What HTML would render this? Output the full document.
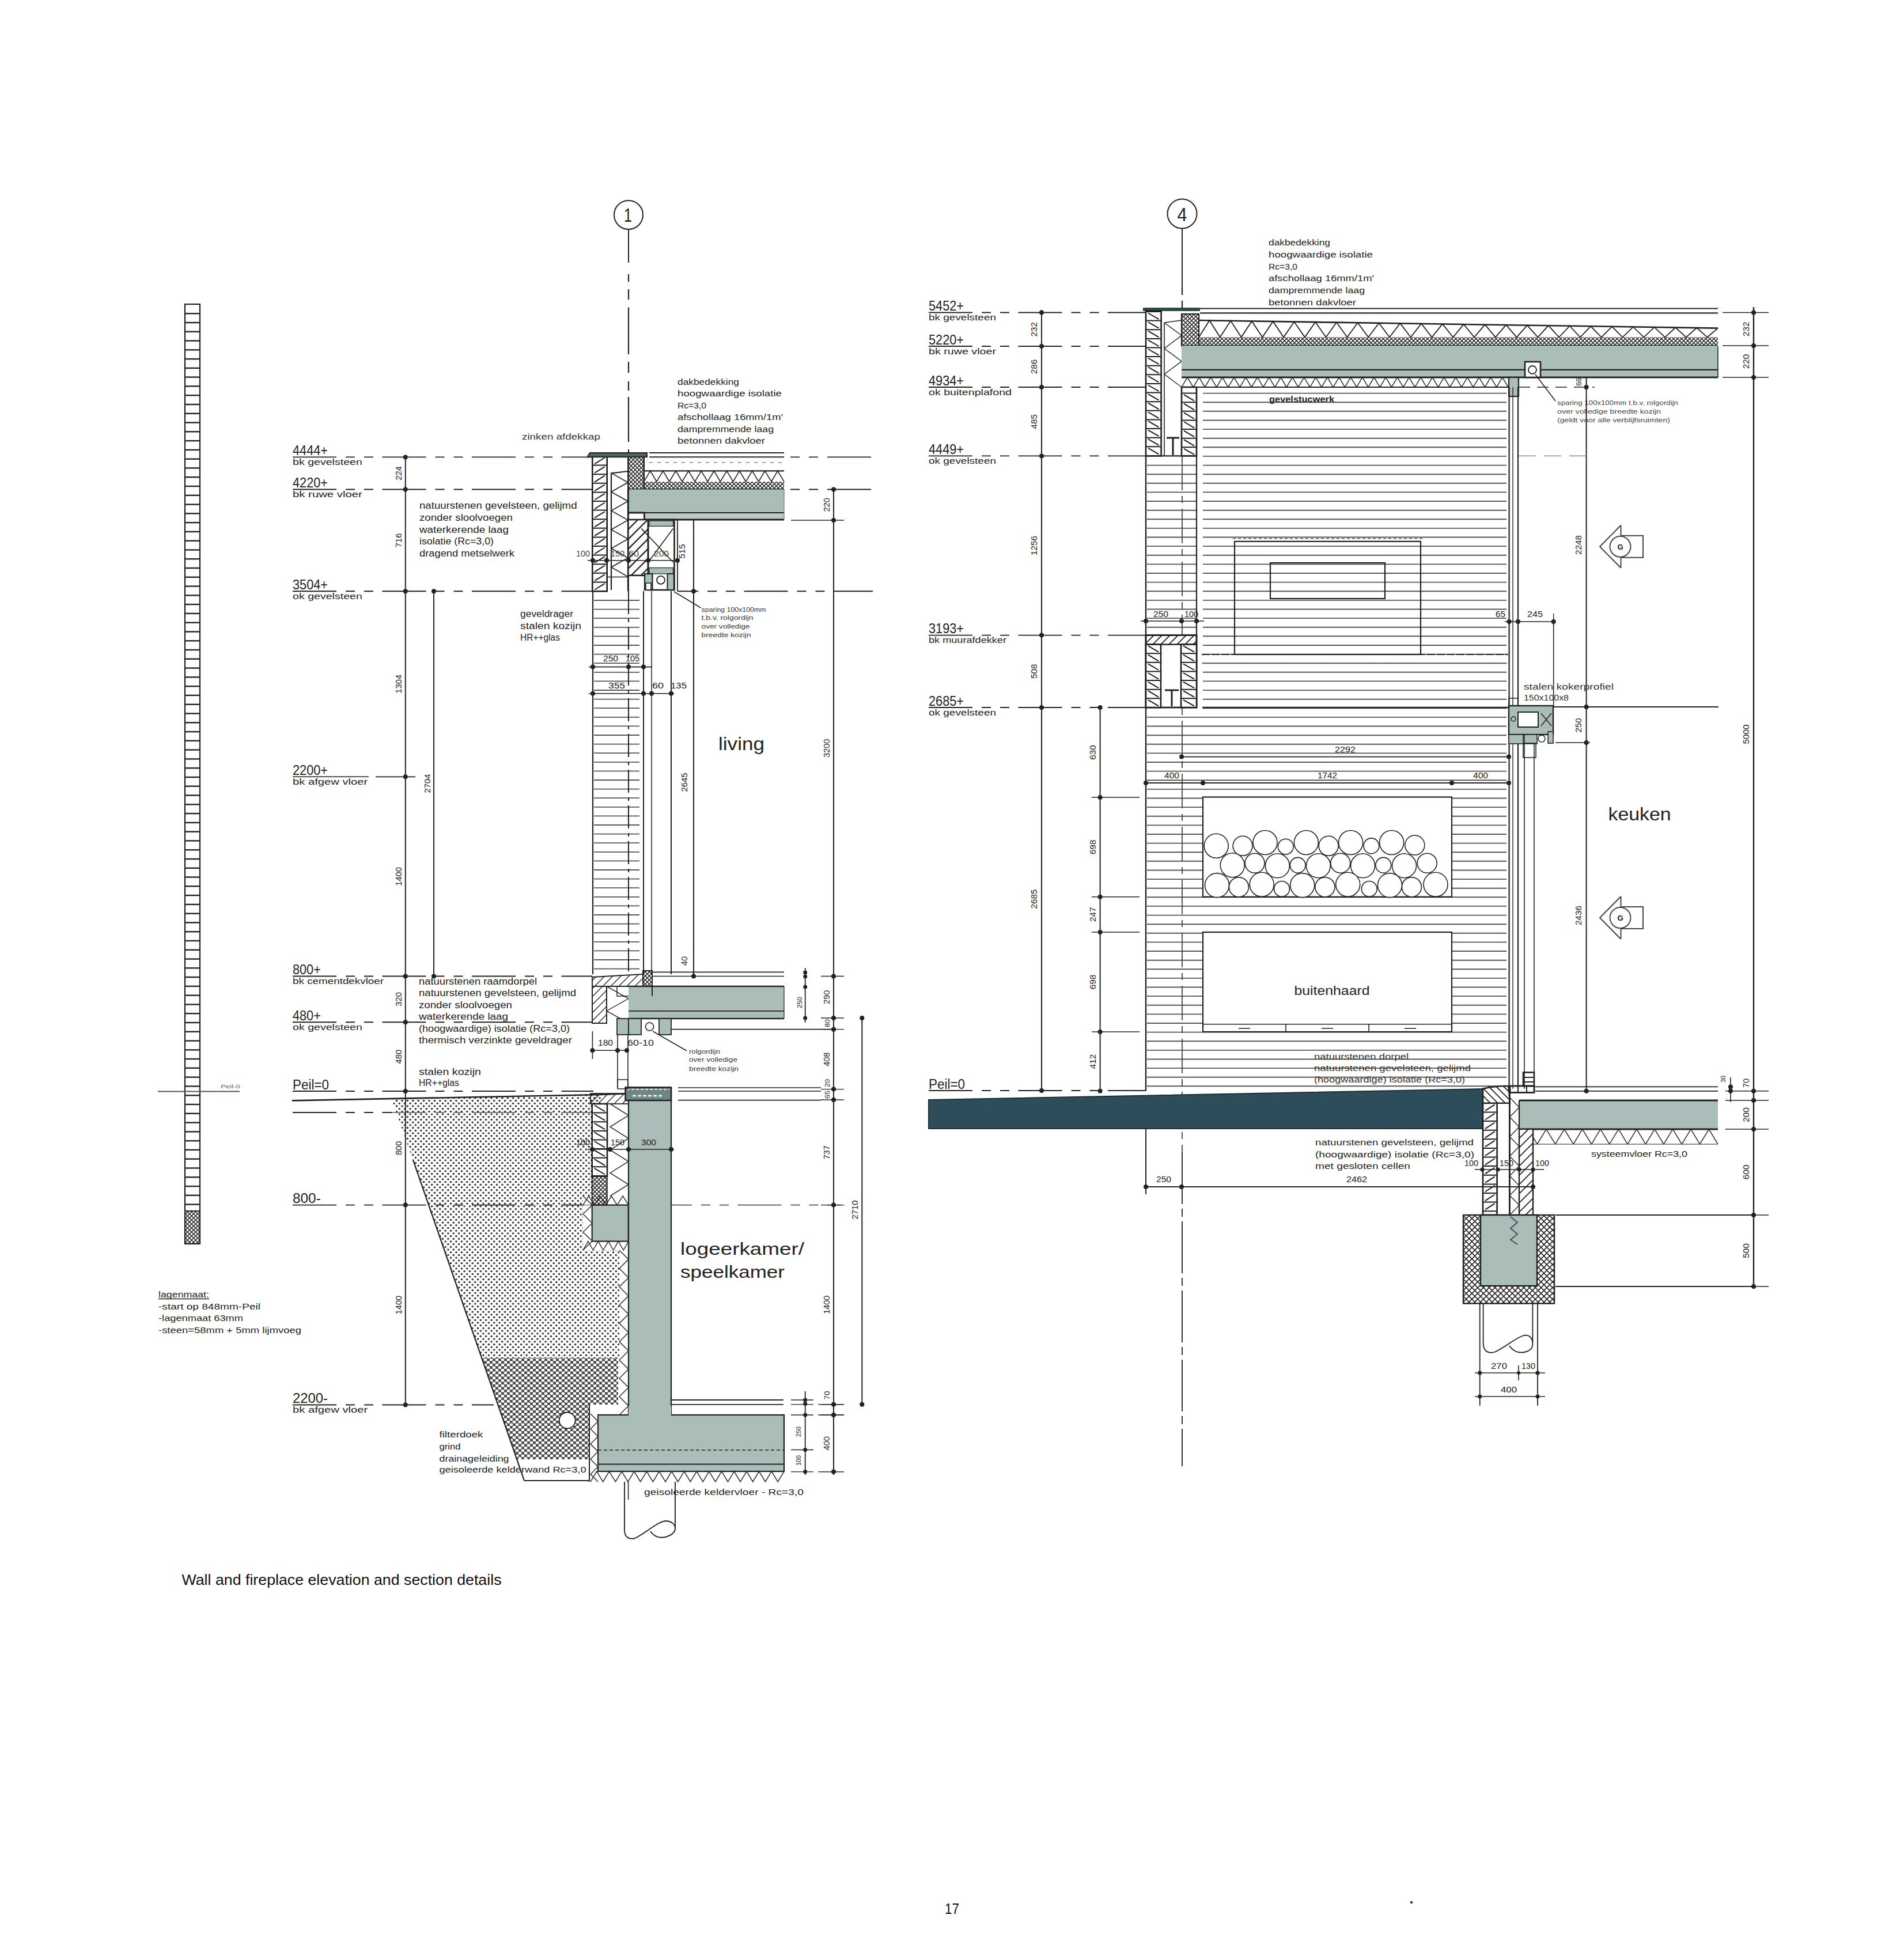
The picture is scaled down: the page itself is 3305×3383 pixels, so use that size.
<!DOCTYPE html>
<html><head><meta charset="utf-8"><title>Wall and fireplace elevation and section details</title>
<style>html,body{margin:0;padding:0;background:#fff;}body{width:3305px;height:3383px;overflow:hidden;}svg{display:block;}text{font-family:"Liberation Sans",sans-serif;}</style>
</head><body>
<svg width="3305" height="3383" viewBox="0 0 3305 3383" font-family="Liberation Sans, sans-serif">
<defs>
<pattern id="dots" width="9.4" height="9.4" patternUnits="userSpaceOnUse"><circle cx="2.35" cy="2.35" r="1.75" fill="#2a2a2a"/><circle cx="7.05" cy="7.05" r="1.75" fill="#2a2a2a"/></pattern>
<pattern id="gravel" width="10" height="9" patternUnits="userSpaceOnUse"><rect width="10" height="9" fill="#3a3a3a"/><ellipse cx="2.5" cy="2.25" rx="3" ry="2.5" fill="#fff"/><ellipse cx="7.5" cy="6.75" rx="3" ry="2.5" fill="#fff"/><ellipse cx="12.5" cy="2.25" rx="3" ry="2.5" fill="#fff"/><ellipse cx="-2.5" cy="6.75" rx="3" ry="2.5" fill="#fff"/><ellipse cx="2.5" cy="11.25" rx="3" ry="2.5" fill="#fff"/><ellipse cx="7.5" cy="-2.25" rx="3" ry="2.5" fill="#fff"/><ellipse cx="12.5" cy="11.25" rx="3" ry="2.5" fill="#fff"/><ellipse cx="-2.5" cy="-2.25" rx="3" ry="2.5" fill="#fff"/></pattern>
<pattern id="xhatch" width="10" height="10" patternUnits="userSpaceOnUse"><path d="M0,0 L10,10 M10,0 L0,10" stroke="#222" stroke-width="1.6"/></pattern>
<pattern id="xhatch2" width="7" height="7" patternUnits="userSpaceOnUse"><path d="M0,0 L7,7 M7,0 L0,7" stroke="#222" stroke-width="1.5"/></pattern>
<pattern id="diag" width="14" height="14" patternUnits="userSpaceOnUse"><path d="M-2,16 L16,-2 M-2,2 L2,-2 M12,16 L16,12" stroke="#333" stroke-width="1.5"/></pattern>
</defs>
<circle cx="1091.0" cy="373.0" r="25.0" fill="none" stroke="#222" stroke-width="2"/>
<text x="1090.0" y="385.0" font-size="34" text-anchor="middle" fill="#222" textLength="14" lengthAdjust="spacingAndGlyphs" font-weight="normal" >1</text>
<line x1="1091.0" y1="398.0" x2="1091.0" y2="456.0" stroke="#222" stroke-width="2" />
<line x1="1091.0" y1="476.0" x2="1091.0" y2="489.0" stroke="#222" stroke-width="2.2" />
<line x1="1091.0" y1="502.0" x2="1091.0" y2="520.0" stroke="#222" stroke-width="2.2" />
<line x1="1091.0" y1="533.7" x2="1091.0" y2="615.0" stroke="#222" stroke-width="2.2" />
<line x1="1091.0" y1="628.0" x2="1091.0" y2="647.0" stroke="#222" stroke-width="2.2" />
<line x1="1091.0" y1="662.0" x2="1091.0" y2="678.0" stroke="#222" stroke-width="2.2" />
<line x1="1091.0" y1="689.0" x2="1091.0" y2="767.0" stroke="#222" stroke-width="2.2" />
<line x1="1091.0" y1="780.0" x2="1091.0" y2="787.0" stroke="#222" stroke-width="2.2" />
<text x="1176.0" y="667.6" font-size="15.5" text-anchor="start" fill="#222" textLength="107" lengthAdjust="spacingAndGlyphs" font-weight="normal" >dakbedekking</text>
<text x="1176.0" y="688.1" font-size="15.5" text-anchor="start" fill="#222" textLength="181" lengthAdjust="spacingAndGlyphs" font-weight="normal" >hoogwaardige isolatie</text>
<text x="1176.0" y="708.6" font-size="15.5" text-anchor="start" fill="#222" textLength="50" lengthAdjust="spacingAndGlyphs" font-weight="normal" >Rc=3,0</text>
<text x="1176.0" y="729.1" font-size="15.5" text-anchor="start" fill="#222" textLength="183" lengthAdjust="spacingAndGlyphs" font-weight="normal" >afschollaag 16mm/1m'</text>
<text x="1176.0" y="749.6" font-size="15.5" text-anchor="start" fill="#222" textLength="167" lengthAdjust="spacingAndGlyphs" font-weight="normal" >dampremmende laag</text>
<text x="1176.0" y="770.1" font-size="15.5" text-anchor="start" fill="#222" textLength="152" lengthAdjust="spacingAndGlyphs" font-weight="normal" >betonnen dakvloer</text>
<text x="906.0" y="763.0" font-size="15" text-anchor="start" fill="#333" textLength="136" lengthAdjust="spacingAndGlyphs" font-weight="normal" >zinken afdekkap</text>
<text x="508.0" y="789.9" font-size="23" text-anchor="start" fill="#222" textLength="61.0" lengthAdjust="spacingAndGlyphs" font-weight="normal" >4444+</text>
<text x="508.0" y="806.9" font-size="14.5" text-anchor="start" fill="#222" textLength="120.9" lengthAdjust="spacingAndGlyphs" font-weight="normal" >bk gevelsteen</text>
<text x="508.0" y="846.0" font-size="23" text-anchor="start" fill="#222" textLength="61.0" lengthAdjust="spacingAndGlyphs" font-weight="normal" >4220+</text>
<text x="508.0" y="863.0" font-size="14.5" text-anchor="start" fill="#222" textLength="120.9" lengthAdjust="spacingAndGlyphs" font-weight="normal" >bk ruwe vloer</text>
<text x="508.0" y="1022.8" font-size="23" text-anchor="start" fill="#222" textLength="61.0" lengthAdjust="spacingAndGlyphs" font-weight="normal" >3504+</text>
<text x="508.0" y="1039.8" font-size="14.5" text-anchor="start" fill="#222" textLength="120.9" lengthAdjust="spacingAndGlyphs" font-weight="normal" >ok gevelsteen</text>
<text x="508.0" y="1344.8" font-size="23" text-anchor="start" fill="#222" textLength="61.0" lengthAdjust="spacingAndGlyphs" font-weight="normal" >2200+</text>
<text x="508.0" y="1361.8" font-size="14.5" text-anchor="start" fill="#222" textLength="130.20000000000002" lengthAdjust="spacingAndGlyphs" font-weight="normal" >bk afgew vloer</text>
<text x="508.0" y="1691.0" font-size="23" text-anchor="start" fill="#222" textLength="48.8" lengthAdjust="spacingAndGlyphs" font-weight="normal" >800+</text>
<text x="508.0" y="1708.0" font-size="14.5" text-anchor="start" fill="#222" textLength="158.10000000000002" lengthAdjust="spacingAndGlyphs" font-weight="normal" >bk cementdekvloer</text>
<text x="508.0" y="1770.8" font-size="23" text-anchor="start" fill="#222" textLength="48.8" lengthAdjust="spacingAndGlyphs" font-weight="normal" >480+</text>
<text x="508.0" y="1787.8" font-size="14.5" text-anchor="start" fill="#222" textLength="120.9" lengthAdjust="spacingAndGlyphs" font-weight="normal" >ok gevelsteen</text>
<text x="508.0" y="1890.5" font-size="23" text-anchor="start" fill="#222" textLength="63" lengthAdjust="spacingAndGlyphs" font-weight="normal" >Peil=0</text>
<text x="508.0" y="2088.1" font-size="23" text-anchor="start" fill="#222" textLength="48.8" lengthAdjust="spacingAndGlyphs" font-weight="normal" >800-</text>
<text x="508.0" y="2435.0" font-size="23" text-anchor="start" fill="#222" textLength="61.0" lengthAdjust="spacingAndGlyphs" font-weight="normal" >2200-</text>
<text x="508.0" y="2452.0" font-size="14.5" text-anchor="start" fill="#222" textLength="130.20000000000002" lengthAdjust="spacingAndGlyphs" font-weight="normal" >bk afgew vloer</text>
<line x1="508.0" y1="793.4" x2="1028.0" y2="793.4" stroke="#222" stroke-width="1.9" stroke-dasharray="76 16 16 16 16 15.5" stroke-dashoffset="0"/>
<line x1="508.0" y1="849.5" x2="1028.0" y2="849.5" stroke="#222" stroke-width="1.9" stroke-dasharray="76 16 16 16 16 15.5" stroke-dashoffset="0"/>
<line x1="508.0" y1="1026.3" x2="1028.0" y2="1026.3" stroke="#222" stroke-width="1.9" stroke-dasharray="76 16 16 16 16 15.5" stroke-dashoffset="0"/>
<line x1="508.0" y1="1694.5" x2="1028.0" y2="1694.5" stroke="#222" stroke-width="1.9" stroke-dasharray="76 16 16 16 16 15.5" stroke-dashoffset="0"/>
<line x1="508.0" y1="1774.3" x2="1028.0" y2="1774.3" stroke="#222" stroke-width="1.9" stroke-dasharray="76 16 16 16 16 15.5" stroke-dashoffset="0"/>
<line x1="508.0" y1="1894.0" x2="1030.0" y2="1894.0" stroke="#222" stroke-width="1.9" stroke-dasharray="76 16 16 16 16 15.5" stroke-dashoffset="0"/>
<line x1="508.0" y1="2091.6" x2="1012.0" y2="2091.6" stroke="#222" stroke-width="1.9" stroke-dasharray="76 16 16 16 16 15.5" stroke-dashoffset="0"/>
<line x1="508.0" y1="2438.5" x2="857.0" y2="2438.5" stroke="#222" stroke-width="1.9" stroke-dasharray="76 16 16 16 16 15.5" stroke-dashoffset="0"/>
<line x1="508.0" y1="1931.0" x2="680.0" y2="1931.0" stroke="#222" stroke-width="1.9" stroke-dasharray="76 16 16 16 16 15.5" stroke-dashoffset="0"/>
<line x1="508.0" y1="1348.3" x2="640.0" y2="1348.3" stroke="#222" stroke-width="1.6" />
<line x1="652.0" y1="1348.3" x2="721.0" y2="1348.3" stroke="#222" stroke-width="1.8" />
<line x1="1372.0" y1="793.4" x2="1515.0" y2="793.4" stroke="#222" stroke-width="1.9" stroke-dasharray="16 16 16 16 76 16" stroke-dashoffset="0"/>
<line x1="1176.0" y1="1026.3" x2="1515.0" y2="1026.3" stroke="#222" stroke-width="1.9" stroke-dasharray="76 16 16 16 16 15.5" stroke-dashoffset="40"/>
<line x1="1372.0" y1="849.5" x2="1515.0" y2="849.5" stroke="#222" stroke-width="1.9" stroke-dasharray="16 16 16 16 76 16" stroke-dashoffset="0"/>
<line x1="1373.0" y1="903.0" x2="1465.0" y2="903.0" stroke="#222" stroke-width="1.6" />
<line x1="703.8" y1="790.0" x2="703.8" y2="2442.0" stroke="#222" stroke-width="2" />
<circle cx="703.8" cy="793.4" r="4" fill="#222"/>
<circle cx="703.8" cy="849.5" r="4" fill="#222"/>
<circle cx="703.8" cy="1026.3" r="4" fill="#222"/>
<circle cx="703.8" cy="1348.3" r="4" fill="#222"/>
<circle cx="703.8" cy="1694.5" r="4" fill="#222"/>
<circle cx="703.8" cy="1774.3" r="4" fill="#222"/>
<circle cx="703.8" cy="1894.0" r="4" fill="#222"/>
<circle cx="703.8" cy="2091.6" r="4" fill="#222"/>
<circle cx="703.8" cy="2438.5" r="4" fill="#222"/>
<text x="697.0" y="821.5" font-size="14" text-anchor="middle" fill="#222" textLength="24.599999999999998" lengthAdjust="spacingAndGlyphs" transform="rotate(-90 697.0 821.5)" font-weight="normal" >224</text>
<text x="697.0" y="937.9" font-size="14" text-anchor="middle" fill="#222" textLength="24.599999999999998" lengthAdjust="spacingAndGlyphs" transform="rotate(-90 697.0 937.9)" font-weight="normal" >716</text>
<text x="697.0" y="1187.3" font-size="14" text-anchor="middle" fill="#222" textLength="32.8" lengthAdjust="spacingAndGlyphs" transform="rotate(-90 697.0 1187.3)" font-weight="normal" >1304</text>
<text x="697.0" y="1521.4" font-size="14" text-anchor="middle" fill="#222" textLength="32.8" lengthAdjust="spacingAndGlyphs" transform="rotate(-90 697.0 1521.4)" font-weight="normal" >1400</text>
<text x="697.0" y="1734.4" font-size="14" text-anchor="middle" fill="#222" textLength="24.599999999999998" lengthAdjust="spacingAndGlyphs" transform="rotate(-90 697.0 1734.4)" font-weight="normal" >320</text>
<text x="697.0" y="1834.2" font-size="14" text-anchor="middle" fill="#222" textLength="24.599999999999998" lengthAdjust="spacingAndGlyphs" transform="rotate(-90 697.0 1834.2)" font-weight="normal" >480</text>
<text x="697.0" y="1992.8" font-size="14" text-anchor="middle" fill="#222" textLength="24.599999999999998" lengthAdjust="spacingAndGlyphs" transform="rotate(-90 697.0 1992.8)" font-weight="normal" >800</text>
<text x="697.0" y="2265.1" font-size="14" text-anchor="middle" fill="#222" textLength="32.8" lengthAdjust="spacingAndGlyphs" transform="rotate(-90 697.0 2265.1)" font-weight="normal" >1400</text>
<line x1="753.0" y1="1023.0" x2="753.0" y2="1697.0" stroke="#222" stroke-width="2" />
<circle cx="753.0" cy="1026.3" r="4" fill="#222"/>
<circle cx="753.0" cy="1694.5" r="4" fill="#222"/>
<text x="747.0" y="1360.0" font-size="14" text-anchor="middle" fill="#222" textLength="33" lengthAdjust="spacingAndGlyphs" transform="rotate(-90 747.0 1360.0)" font-weight="normal" >2704</text>
<text x="728.0" y="883.0" font-size="16" text-anchor="start" fill="#222" textLength="273.5" lengthAdjust="spacingAndGlyphs" font-weight="normal" >natuurstenen gevelsteen, gelijmd</text>
<text x="728.0" y="904.0" font-size="16" text-anchor="start" fill="#222" textLength="162" lengthAdjust="spacingAndGlyphs" font-weight="normal" >zonder sloolvoegen</text>
<text x="728.0" y="924.5" font-size="16" text-anchor="start" fill="#222" textLength="155" lengthAdjust="spacingAndGlyphs" font-weight="normal" >waterkerende laag</text>
<text x="728.0" y="945.0" font-size="16" text-anchor="start" fill="#222" textLength="129" lengthAdjust="spacingAndGlyphs" font-weight="normal" >isolatie (Rc=3,0)</text>
<text x="728.0" y="965.6" font-size="16" text-anchor="start" fill="#222" textLength="165" lengthAdjust="spacingAndGlyphs" font-weight="normal" >dragend metselwerk</text>
<text x="903.0" y="1071.0" font-size="16" text-anchor="start" fill="#222" textLength="92" lengthAdjust="spacingAndGlyphs" font-weight="normal" >geveldrager</text>
<text x="903.0" y="1091.5" font-size="16" text-anchor="start" fill="#222" textLength="106" lengthAdjust="spacingAndGlyphs" font-weight="normal" >stalen kozijn</text>
<text x="903.0" y="1112.0" font-size="16" text-anchor="start" fill="#222" textLength="69" lengthAdjust="spacingAndGlyphs" font-weight="normal" >HR++glas</text>
<text x="727.0" y="1708.7" font-size="16" text-anchor="start" fill="#222" textLength="205" lengthAdjust="spacingAndGlyphs" font-weight="normal" >natuurstenen raamdorpel</text>
<text x="727.0" y="1729.0" font-size="16" text-anchor="start" fill="#222" textLength="273" lengthAdjust="spacingAndGlyphs" font-weight="normal" >natuurstenen gevelsteen, gelijmd</text>
<text x="727.0" y="1749.7" font-size="16" text-anchor="start" fill="#222" textLength="162" lengthAdjust="spacingAndGlyphs" font-weight="normal" >zonder sloolvoegen</text>
<text x="727.0" y="1770.0" font-size="16" text-anchor="start" fill="#222" textLength="155" lengthAdjust="spacingAndGlyphs" font-weight="normal" >waterkerende laag</text>
<text x="727.0" y="1790.7" font-size="16" text-anchor="start" fill="#222" textLength="262" lengthAdjust="spacingAndGlyphs" font-weight="normal" >(hoogwaardige) isolatie (Rc=3,0)</text>
<text x="727.0" y="1811.0" font-size="16" text-anchor="start" fill="#222" textLength="266" lengthAdjust="spacingAndGlyphs" font-weight="normal" >thermisch verzinkte geveldrager</text>
<text x="727.0" y="1866.3" font-size="16" text-anchor="start" fill="#222" textLength="108" lengthAdjust="spacingAndGlyphs" font-weight="normal" >stalen kozijn</text>
<text x="727.0" y="1885.2" font-size="16" text-anchor="start" fill="#222" textLength="70" lengthAdjust="spacingAndGlyphs" font-weight="normal" >HR++glas</text>
<text x="1217.6" y="1061.7" font-size="10" text-anchor="start" fill="#333" textLength="112" lengthAdjust="spacingAndGlyphs" font-weight="normal" >sparing 100x100mm</text>
<text x="1217.6" y="1076.4" font-size="10" text-anchor="start" fill="#333" textLength="90" lengthAdjust="spacingAndGlyphs" font-weight="normal" >t.b.v. rolgordijn</text>
<text x="1217.6" y="1091.0" font-size="10" text-anchor="start" fill="#333" textLength="84" lengthAdjust="spacingAndGlyphs" font-weight="normal" >over volledige</text>
<text x="1217.6" y="1105.8" font-size="10" text-anchor="start" fill="#333" textLength="86" lengthAdjust="spacingAndGlyphs" font-weight="normal" >breedte kozijn</text>
<line x1="1170.0" y1="1027.0" x2="1216.5" y2="1055.0" stroke="#222" stroke-width="1.5" />
<text x="1196.0" y="1829.0" font-size="10" text-anchor="start" fill="#333" textLength="54" lengthAdjust="spacingAndGlyphs" font-weight="normal" >rolgordijn</text>
<text x="1196.0" y="1843.4" font-size="10" text-anchor="start" fill="#333" textLength="84" lengthAdjust="spacingAndGlyphs" font-weight="normal" >over volledige</text>
<text x="1196.0" y="1858.8" font-size="10" text-anchor="start" fill="#333" textLength="86" lengthAdjust="spacingAndGlyphs" font-weight="normal" >breedte kozijn</text>
<line x1="1133.0" y1="1790.0" x2="1192.0" y2="1824.0" stroke="#222" stroke-width="1.5" />
<text x="1287.0" y="1302.0" font-size="32" text-anchor="middle" fill="#222" textLength="80" lengthAdjust="spacingAndGlyphs" font-weight="normal" >living</text>
<text x="1181.0" y="2178.0" font-size="30" text-anchor="start" fill="#222" textLength="215" lengthAdjust="spacingAndGlyphs" font-weight="normal" >logeerkamer/</text>
<text x="1181.0" y="2217.6" font-size="30" text-anchor="start" fill="#222" textLength="181" lengthAdjust="spacingAndGlyphs" font-weight="normal" >speelkamer</text>
<text x="762.5" y="2495.0" font-size="15" text-anchor="start" fill="#222" textLength="76" lengthAdjust="spacingAndGlyphs" font-weight="normal" >filterdoek</text>
<text x="762.5" y="2516.0" font-size="15" text-anchor="start" fill="#222" textLength="37" lengthAdjust="spacingAndGlyphs" font-weight="normal" >grind</text>
<text x="762.5" y="2537.0" font-size="15" text-anchor="start" fill="#222" textLength="121" lengthAdjust="spacingAndGlyphs" font-weight="normal" >drainageleiding</text>
<text x="762.5" y="2556.4" font-size="15" text-anchor="start" fill="#222" textLength="255" lengthAdjust="spacingAndGlyphs" font-weight="normal" >geisoleerde kelderwand Rc=3,0</text>
<text x="1118.0" y="2594.8" font-size="15" text-anchor="start" fill="#222" textLength="277" lengthAdjust="spacingAndGlyphs" font-weight="normal" >geisoleerde keldervloer - Rc=3,0</text>
<polygon points="680.0,1908.0 1043.0,1900.0 1043.0,1916.0 1028.0,1916.0 1028.0,2076.0 1012.0,2076.0 1012.0,2170.0 1075.0,2170.0 1075.0,2357.0 836.0,2357.0" fill="url(#dots)" stroke="none" stroke-width="0" stroke-linejoin="miter" />
<polygon points="836.0,2357.0 1073.0,2357.0 1073.0,2438.0 1023.0,2438.0 1023.0,2533.0 897.0,2533.0" fill="url(#gravel)" stroke="none" stroke-width="0" stroke-linejoin="miter" />
<line x1="716.8" y1="2012.8" x2="910.0" y2="2570.0" stroke="#222" stroke-width="2.2" />
<line x1="1165.0" y1="2091.6" x2="1460.0" y2="2091.6" stroke="#555" stroke-width="1.6" stroke-dasharray="76 16 16 16 16 15.5" stroke-dashoffset="40"/>
<line x1="1012.0" y1="2091.6" x2="1165.0" y2="2091.6" stroke="#5d6f6c" stroke-width="1.4" />
<line x1="680.0" y1="1931.0" x2="1028.0" y2="1931.0" stroke="#555" stroke-width="1.6" stroke-dasharray="76 16 16 16 16 15.5" stroke-dashoffset="172"/>
<line x1="910.0" y1="2570.0" x2="1023.0" y2="2570.0" stroke="#222" stroke-width="2.2" />
<line x1="1023.0" y1="2438.0" x2="1023.0" y2="2572.0" stroke="#222" stroke-width="2" />
<polyline points="507.0,1910.4 1043.0,1900.0 1095.0,1898.0" fill="none" stroke="#222" stroke-width="2.6" stroke-linejoin="miter" />
<circle cx="984.7" cy="2465.5" r="14.0" fill="#fff" stroke="#222" stroke-width="1.8"/>
<rect x="1091.0" y="1909.0" width="74.0" height="547.0" fill="#abbdb9" stroke="#222" stroke-width="2.2" />
<rect x="1038.0" y="2456.0" width="323.0" height="98.0" fill="#abbdb9" stroke="#222" stroke-width="2.2" />
<rect x="1091.0" y="2440.0" width="74.0" height="30.0" fill="#abbdb9"  />
<line x1="1038.0" y1="2517.0" x2="1361.0" y2="2517.0" stroke="#222" stroke-width="1.5" stroke-dasharray="6 4"/>
<line x1="1038.0" y1="2541.5" x2="1361.0" y2="2541.5" stroke="#222" stroke-width="2.2" />
<rect x="1027.7" y="2091.6" width="63.0" height="63.0" fill="#abbdb9" stroke="#222" stroke-width="2.2" />
<polyline points="1012.0,2076.0 1028.0,2091.7 1012.0,2107.3 1028.0,2123.0 1012.0,2138.7 1028.0,2154.3 1012.0,2170.0" fill="none" stroke="#333" stroke-width="1.5" stroke-linejoin="miter" />
<polyline points="1012.0,2170.0 1020.8,2154.6 1029.6,2170.0 1038.3,2154.6 1047.1,2170.0 1055.9,2154.6 1064.7,2170.0 1073.4,2154.6 1082.2,2170.0 1091.0,2154.6" fill="none" stroke="#333" stroke-width="1.5" stroke-linejoin="miter" />
<polyline points="1012.0,2091.6 1021.9,2076.0 1031.8,2091.6 1041.6,2076.0 1051.5,2091.6 1061.4,2076.0 1071.2,2091.6 1081.1,2076.0 1091.0,2091.6" fill="none" stroke="#333" stroke-width="1.5" stroke-linejoin="miter" />
<polyline points="1075.0,2170.0 1091.0,2185.9 1075.0,2201.8 1091.0,2217.7 1075.0,2233.6 1091.0,2249.4 1075.0,2265.3 1091.0,2281.2 1075.0,2297.1 1091.0,2313.0 1075.0,2328.9 1091.0,2344.8 1075.0,2360.7 1091.0,2376.6 1075.0,2392.4 1091.0,2408.3 1075.0,2424.2 1091.0,2440.1 1075.0,2456.0" fill="none" stroke="#333" stroke-width="1.5" stroke-linejoin="miter" />
<polyline points="1025.0,2454.0 1038.0,2467.1 1025.0,2480.2 1038.0,2493.3 1025.0,2506.4 1038.0,2519.6 1025.0,2532.7 1038.0,2545.8 1025.0,2558.9 1038.0,2572.0" fill="none" stroke="#333" stroke-width="1.5" stroke-linejoin="miter" />
<polyline points="1025.0,2572.0 1035.8,2554.0 1046.7,2572.0 1057.5,2554.0 1068.4,2572.0 1079.2,2554.0 1090.0,2572.0 1100.9,2554.0 1111.7,2572.0 1122.5,2554.0 1133.4,2572.0 1144.2,2554.0 1155.1,2572.0 1165.9,2554.0 1176.7,2572.0 1187.6,2554.0 1198.4,2572.0 1209.3,2554.0 1220.1,2572.0 1230.9,2554.0 1241.8,2572.0 1252.6,2554.0 1263.5,2572.0 1274.3,2554.0 1285.1,2572.0 1296.0,2554.0 1306.8,2572.0 1317.6,2554.0 1328.5,2572.0 1339.3,2554.0 1350.2,2572.0 1361.0,2554.0" fill="none" stroke="#333" stroke-width="1.5" stroke-linejoin="miter" />
<rect x="1027.7" y="1916.0" width="26.3" height="125.7" fill="#fff" stroke="#1e1e1e" stroke-width="2.6" />
<path d="M1031.7,1918.5L1050.0,1929.1 M1027.7,1931.6H1054.0 M1031.7,1934.1L1050.0,1944.7 M1027.7,1947.2H1054.0 M1031.7,1949.7L1050.0,1960.4 M1027.7,1962.9H1054.0 M1031.7,1965.4L1050.0,1976.0 M1027.7,1978.5H1054.0 M1031.7,1981.0L1050.0,1991.6 M1027.7,1994.1H1054.0 M1031.7,1996.6L1050.0,2007.2 M1027.7,2009.7H1054.0 M1031.7,2012.2L1050.0,2022.8 M1027.7,2025.3H1054.0 M1031.7,2027.8L1050.0,2038.5 M1027.7,2041.0H1054.0" fill="none" stroke="#1e1e1e" stroke-width="2.0"/>
<rect x="1027.7" y="2041.7" width="26.0" height="50.0" fill="url(#xhatch2)" stroke="#222" stroke-width="2" />
<polyline points="1059.0,1916.0 1091.0,1936.0 1059.0,1956.0 1091.0,1976.0 1059.0,1996.0 1091.0,2016.0 1059.0,2036.0 1091.0,2056.0 1059.0,2076.0" fill="none" stroke="#333" stroke-width="1.5" stroke-linejoin="miter" />
<rect x="1025.0" y="1898.0" width="66.0" height="18.0" fill="url(#diag)" stroke="#222" stroke-width="1.8" />
<rect x="1085.6" y="1887.4" width="79.4" height="22.6" fill="#6f8784" stroke="#222" stroke-width="2.6" />
<line x1="1088.0" y1="1891.0" x2="1162.0" y2="1891.0" stroke="#d8e6e2" stroke-width="1.8" stroke-dasharray="5 3"/>
<line x1="1098.0" y1="1902.0" x2="1150.0" y2="1902.0" stroke="#e8f0ee" stroke-width="3" stroke-dasharray="6 3"/>
<line x1="1177.0" y1="1888.0" x2="1425.0" y2="1888.0" stroke="#222" stroke-width="1.6" />
<line x1="1177.0" y1="1894.0" x2="1425.0" y2="1894.0" stroke="#222" stroke-width="1.6" />
<line x1="1177.0" y1="1909.6" x2="1425.0" y2="1909.6" stroke="#222" stroke-width="1.6" />
<path d="M1084,2572 L1084,2656 C1084,2668 1092,2673 1102,2670 C1120,2662 1140,2642 1155,2640 C1166,2640 1172,2646 1172,2653 L1172,2572" fill="none" stroke="#222" stroke-width="1.9" />
<path d="M1128.7,2658 C1136,2668 1146,2670 1155,2668 C1165,2665 1172,2660 1172,2653" fill="none" stroke="#222" stroke-width="1.9" />
<line x1="1090.6" y1="2572.0" x2="1090.6" y2="2603.0" stroke="#222" stroke-width="1.6" />
<line x1="1165.4" y1="2430.0" x2="1360.0" y2="2430.0" stroke="#222" stroke-width="1.8" />
<line x1="1165.4" y1="2437.8" x2="1360.0" y2="2437.8" stroke="#222" stroke-width="1.8" />
<rect x="1028.3" y="792.0" width="25.4" height="234.3" fill="#fff" stroke="#1e1e1e" stroke-width="2.6" />
<path d="M1032.3,805.1L1049.7,794.5 M1028.3,807.6H1053.7 M1032.3,820.7L1049.7,810.1 M1028.3,823.2H1053.7 M1032.3,836.3L1049.7,825.7 M1028.3,838.8H1053.7 M1032.3,851.9L1049.7,841.3 M1028.3,854.4H1053.7 M1032.3,867.5L1049.7,856.9 M1028.3,870.0H1053.7 M1032.3,883.1L1049.7,872.5 M1028.3,885.6H1053.7 M1032.3,898.7L1049.7,888.1 M1028.3,901.2H1053.7 M1032.3,914.3L1049.7,903.7 M1028.3,916.8H1053.7 M1032.3,929.9L1049.7,919.3 M1028.3,932.4H1053.7 M1032.3,945.5L1049.7,934.9 M1028.3,948.0H1053.7 M1032.3,961.1L1049.7,950.5 M1028.3,963.6H1053.7 M1032.3,976.7L1049.7,966.1 M1028.3,979.2H1053.7 M1032.3,992.3L1049.7,981.7 M1028.3,994.8H1053.7 M1032.3,1007.9L1049.7,997.3 M1028.3,1010.4H1053.7 M1032.3,1023.5L1049.7,1012.9" fill="none" stroke="#1e1e1e" stroke-width="2.0"/>
<polyline points="1061.0,1024.0 1061.0,821.4 1090.0,818.0" fill="none" stroke="#222" stroke-width="2.2" stroke-linejoin="miter" />
<polyline points="1061.0,821.0 1090.0,837.4 1061.0,853.7 1090.0,870.1 1061.0,886.5 1090.0,902.8 1061.0,919.2 1090.0,935.5 1061.0,951.9 1090.0,968.3 1061.0,984.6 1090.0,1001.0" fill="none" stroke="#333" stroke-width="1.8" stroke-linejoin="miter" />
<line x1="1053.7" y1="1001.5" x2="1090.0" y2="1001.5" stroke="#222" stroke-width="1.6" />
<line x1="1061.0" y1="1001.5" x2="1061.0" y2="1024.0" stroke="#222" stroke-width="2" />
<rect x="1090.4" y="792.0" width="27.3" height="57.4" fill="url(#xhatch2)" stroke="#222" stroke-width="2.6" />
<path d="M1020,792 L1024,786 L1123,786 L1123,793.3 L1020,793.3 Z" fill="#4f6462" stroke="#222" stroke-width="2" />
<line x1="1127.0" y1="786.0" x2="1361.0" y2="786.0" stroke="#222" stroke-width="2.2" />
<line x1="1127.0" y1="793.3" x2="1361.0" y2="793.3" stroke="#222" stroke-width="2" />
<line x1="1127.0" y1="802.7" x2="1361.0" y2="802.7" stroke="#888" stroke-width="1.4" stroke-dasharray="6 8"/>
<polyline points="1117.7,836.0 1128.8,817.4 1139.8,836.0 1150.9,817.4 1161.9,836.0 1173.0,817.4 1184.1,836.0 1195.1,817.4 1206.2,836.0 1217.2,817.4 1228.3,836.0 1239.3,817.4 1250.4,836.0 1261.5,817.4 1272.5,836.0 1283.6,817.4 1294.6,836.0 1305.7,817.4 1316.8,836.0 1327.8,817.4 1338.9,836.0 1349.9,817.4 1361.0,836.0" fill="none" stroke="#333" stroke-width="1.8" stroke-linejoin="miter" />
<rect x="1117.7" y="836.0" width="243.3" height="12.4" fill="url(#xhatch2)"  />
<line x1="1117.7" y1="817.4" x2="1361.0" y2="817.4" stroke="#222" stroke-width="2.4" />
<line x1="1090.0" y1="849.4" x2="1361.0" y2="849.4" stroke="#222" stroke-width="2.8" />
<rect x="1091.7" y="849.4" width="269.3" height="41.0" fill="#abbdb9"  />
<rect x="1118.4" y="890.0" width="242.6" height="12.0" fill="#b9cbc7"  />
<line x1="1090.4" y1="849.4" x2="1090.4" y2="1026.0" stroke="#222" stroke-width="3" />
<polyline points="1090.4,890.0 1118.4,890.0 1118.4,902.0 1361.0,902.0" fill="none" stroke="#222" stroke-width="2.8" stroke-linejoin="miter" />
<line x1="1118.4" y1="890.0" x2="1361.0" y2="890.0" stroke="#222" stroke-width="2.2" />
<line x1="1361.0" y1="849.4" x2="1361.0" y2="902.0" stroke="#777" stroke-width="1.2" />
<rect x="1090.4" y="902.0" width="34.6" height="96.8" fill="#fff" stroke="#222" stroke-width="2.6" />
<clipPath id="c163"><rect x="1090.4" y="902" width="34.59999999999991" height="96.79999999999995"/></clipPath>
<path d="M993.6,998.8L1090.4,902.0 M1010.6,998.8L1107.4,902.0 M1027.6,998.8L1124.4,902.0 M1044.6,998.8L1141.4,902.0 M1061.6,998.8L1158.4,902.0 M1078.6,998.8L1175.4,902.0 M1095.6,998.8L1192.4,902.0 M1112.6,998.8L1209.4,902.0 M1129.6,998.8L1226.4,902.0 M1146.6,998.8L1243.4,902.0 M1163.6,998.8L1260.4,902.0 M1180.6,998.8L1277.4,902.0 M1197.6,998.8L1294.4,902.0 M1214.6,998.8L1311.4,902.0" stroke="#222" stroke-width="2.2" clip-path="url(#c163)"/>
<rect x="1125.0" y="902.0" width="45.5" height="122.0" fill="none" stroke="#222" stroke-width="2.6" />
<path d="M1113.4,917.4 L1168.5,976 M1168.5,917.4 L1125,976" fill="none" stroke="#222" stroke-width="1.6" />
<rect x="1127.0" y="904.0" width="41.5" height="9.4" fill="#abbdb9" stroke="#222" stroke-width="1.2" />
<rect x="1127.0" y="985.5" width="41.5" height="10.5" fill="#abbdb9" stroke="#222" stroke-width="1.2" />
<rect x="1119.0" y="996.0" width="13.4" height="28.0" fill="#abbdb9" stroke="#222" stroke-width="2.2" />
<rect x="1121.0" y="1012.0" width="9.0" height="12.0" fill="#fff" stroke="#222" stroke-width="1.6" />
<circle cx="1147.0" cy="1006.8" r="7.0" fill="none" stroke="#222" stroke-width="1.8"/>
<rect x="1158.5" y="996.0" width="11.3" height="28.0" fill="#abbdb9" stroke="#222" stroke-width="2" />
<line x1="1176.0" y1="902.0" x2="1176.0" y2="1026.0" stroke="#222" stroke-width="1.8" />
<circle cx="1176.0" cy="972.7" r="4" fill="#222"/>
<text x="1189.0" y="957.0" font-size="14" text-anchor="middle" fill="#222" textLength="25" lengthAdjust="spacingAndGlyphs" transform="rotate(-90 1189.0 957.0)" font-weight="normal" >515</text>
<line x1="1020.0" y1="972.7" x2="1180.0" y2="972.7" stroke="#222" stroke-width="1.5" />
<circle cx="1029.0" cy="972.7" r="4" fill="#222"/>
<circle cx="1053.0" cy="972.7" r="4" fill="#222"/>
<circle cx="1091.0" cy="972.7" r="4" fill="#222"/>
<circle cx="1125.0" cy="972.7" r="4" fill="#222"/>
<text x="1024.0" y="966.0" font-size="14" text-anchor="end" fill="#444" textLength="24" lengthAdjust="spacingAndGlyphs" font-weight="normal" >100</text>
<text x="1060.0" y="966.0" font-size="14" text-anchor="start" fill="#444" textLength="24" lengthAdjust="spacingAndGlyphs" font-weight="normal" >150</text>
<text x="1091.0" y="966.0" font-size="14" text-anchor="start" fill="#444" textLength="18" lengthAdjust="spacingAndGlyphs" font-weight="normal" >60</text>
<text x="1135.0" y="966.0" font-size="14" text-anchor="start" fill="#444" textLength="26" lengthAdjust="spacingAndGlyphs" font-weight="normal" >200</text>
<line x1="1029.0" y1="1026.0" x2="1029.0" y2="1691.0" stroke="#222" stroke-width="2.2" />
<line x1="1031.0" y1="1042.0" x2="1110.0" y2="1042.0" stroke="#555" stroke-width="1.8" />
<line x1="1031.0" y1="1057.6" x2="1110.0" y2="1057.6" stroke="#555" stroke-width="1.8" />
<line x1="1031.0" y1="1073.2" x2="1110.0" y2="1073.2" stroke="#555" stroke-width="1.8" />
<line x1="1031.0" y1="1088.8" x2="1110.0" y2="1088.8" stroke="#555" stroke-width="1.8" />
<line x1="1031.0" y1="1104.4" x2="1110.0" y2="1104.4" stroke="#555" stroke-width="1.8" />
<line x1="1031.0" y1="1120.0" x2="1110.0" y2="1120.0" stroke="#555" stroke-width="1.8" />
<line x1="1031.0" y1="1135.6" x2="1110.0" y2="1135.6" stroke="#555" stroke-width="1.8" />
<line x1="1031.0" y1="1151.2" x2="1110.0" y2="1151.2" stroke="#555" stroke-width="1.8" />
<line x1="1031.0" y1="1166.8" x2="1110.0" y2="1166.8" stroke="#555" stroke-width="1.8" />
<line x1="1031.0" y1="1182.4" x2="1110.0" y2="1182.4" stroke="#555" stroke-width="1.8" />
<line x1="1031.0" y1="1198.0" x2="1110.0" y2="1198.0" stroke="#555" stroke-width="1.8" />
<line x1="1031.0" y1="1213.6" x2="1110.0" y2="1213.6" stroke="#555" stroke-width="1.8" />
<line x1="1031.0" y1="1229.2" x2="1110.0" y2="1229.2" stroke="#555" stroke-width="1.8" />
<line x1="1031.0" y1="1244.8" x2="1110.0" y2="1244.8" stroke="#555" stroke-width="1.8" />
<line x1="1031.0" y1="1260.4" x2="1110.0" y2="1260.4" stroke="#555" stroke-width="1.8" />
<line x1="1031.0" y1="1276.0" x2="1110.0" y2="1276.0" stroke="#555" stroke-width="1.8" />
<line x1="1031.0" y1="1291.6" x2="1110.0" y2="1291.6" stroke="#555" stroke-width="1.8" />
<line x1="1031.0" y1="1307.2" x2="1110.0" y2="1307.2" stroke="#555" stroke-width="1.8" />
<line x1="1031.0" y1="1322.8" x2="1110.0" y2="1322.8" stroke="#555" stroke-width="1.8" />
<line x1="1031.0" y1="1338.4" x2="1110.0" y2="1338.4" stroke="#555" stroke-width="1.8" />
<line x1="1031.0" y1="1354.0" x2="1110.0" y2="1354.0" stroke="#555" stroke-width="1.8" />
<line x1="1031.0" y1="1369.6" x2="1110.0" y2="1369.6" stroke="#555" stroke-width="1.8" />
<line x1="1031.0" y1="1385.2" x2="1110.0" y2="1385.2" stroke="#555" stroke-width="1.8" />
<line x1="1031.0" y1="1400.8" x2="1110.0" y2="1400.8" stroke="#555" stroke-width="1.8" />
<line x1="1031.0" y1="1416.4" x2="1110.0" y2="1416.4" stroke="#555" stroke-width="1.8" />
<line x1="1031.0" y1="1432.0" x2="1110.0" y2="1432.0" stroke="#555" stroke-width="1.8" />
<line x1="1031.0" y1="1447.6" x2="1110.0" y2="1447.6" stroke="#555" stroke-width="1.8" />
<line x1="1031.0" y1="1463.2" x2="1110.0" y2="1463.2" stroke="#555" stroke-width="1.8" />
<line x1="1031.0" y1="1478.8" x2="1110.0" y2="1478.8" stroke="#555" stroke-width="1.8" />
<line x1="1031.0" y1="1494.4" x2="1110.0" y2="1494.4" stroke="#555" stroke-width="1.8" />
<line x1="1031.0" y1="1510.0" x2="1110.0" y2="1510.0" stroke="#555" stroke-width="1.8" />
<line x1="1031.0" y1="1525.6" x2="1110.0" y2="1525.6" stroke="#555" stroke-width="1.8" />
<line x1="1031.0" y1="1541.2" x2="1110.0" y2="1541.2" stroke="#555" stroke-width="1.8" />
<line x1="1031.0" y1="1556.8" x2="1110.0" y2="1556.8" stroke="#555" stroke-width="1.8" />
<line x1="1031.0" y1="1572.4" x2="1110.0" y2="1572.4" stroke="#555" stroke-width="1.8" />
<line x1="1031.0" y1="1588.0" x2="1110.0" y2="1588.0" stroke="#555" stroke-width="1.8" />
<line x1="1031.0" y1="1603.6" x2="1110.0" y2="1603.6" stroke="#555" stroke-width="1.8" />
<line x1="1031.0" y1="1619.2" x2="1110.0" y2="1619.2" stroke="#555" stroke-width="1.8" />
<line x1="1031.0" y1="1634.8" x2="1110.0" y2="1634.8" stroke="#555" stroke-width="1.8" />
<line x1="1031.0" y1="1650.4" x2="1110.0" y2="1650.4" stroke="#555" stroke-width="1.8" />
<line x1="1031.0" y1="1666.0" x2="1110.0" y2="1666.0" stroke="#555" stroke-width="1.8" />
<line x1="1031.0" y1="1681.6" x2="1110.0" y2="1681.6" stroke="#555" stroke-width="1.8" />
<line x1="1091.0" y1="1026.0" x2="1091.0" y2="1688.0" stroke="#222" stroke-width="2" stroke-dasharray="40 8 6 8" stroke-dashoffset="0"/>
<line x1="1117.0" y1="1026.0" x2="1117.0" y2="1691.0" stroke="#222" stroke-width="2" />
<line x1="1131.0" y1="1026.0" x2="1131.0" y2="1691.0" stroke="#222" stroke-width="1.5" />
<line x1="1165.0" y1="1026.0" x2="1165.0" y2="1691.0" stroke="#222" stroke-width="2" />
<line x1="1204.0" y1="903.0" x2="1204.0" y2="1694.0" stroke="#222" stroke-width="2" />
<circle cx="1204.0" cy="1026.3" r="4" fill="#222"/>
<circle cx="1204.0" cy="1694.5" r="4" fill="#222"/>
<text x="1193.0" y="1358.0" font-size="15" text-anchor="middle" fill="#222" textLength="33" lengthAdjust="spacingAndGlyphs" transform="rotate(-90 1193.0 1358.0)" font-weight="normal" >2645</text>
<text x="1193.0" y="1668.0" font-size="15" text-anchor="middle" fill="#222" textLength="16" lengthAdjust="spacingAndGlyphs" transform="rotate(-90 1193.0 1668.0)" font-weight="normal" >40</text>
<line x1="1022.0" y1="1157.6" x2="1132.0" y2="1157.6" stroke="#222" stroke-width="1.6" />
<circle cx="1029.0" cy="1157.6" r="4" fill="#222"/>
<circle cx="1091.0" cy="1157.6" r="4" fill="#222"/>
<circle cx="1117.0" cy="1157.6" r="4" fill="#222"/>
<text x="1047.0" y="1148.0" font-size="14" text-anchor="start" fill="#222" textLength="26" lengthAdjust="spacingAndGlyphs" font-weight="normal" >250</text>
<text x="1086.0" y="1148.0" font-size="14" text-anchor="start" fill="#222" textLength="24" lengthAdjust="spacingAndGlyphs" font-weight="normal" >105</text>
<line x1="1022.0" y1="1203.7" x2="1170.0" y2="1203.7" stroke="#222" stroke-width="1.6" />
<circle cx="1029.0" cy="1203.7" r="4" fill="#222"/>
<circle cx="1117.0" cy="1203.7" r="4" fill="#222"/>
<circle cx="1131.0" cy="1203.7" r="4" fill="#222"/>
<circle cx="1165.0" cy="1203.7" r="4" fill="#222"/>
<text x="1056.0" y="1195.0" font-size="14" text-anchor="start" fill="#222" textLength="29" lengthAdjust="spacingAndGlyphs" font-weight="normal" >355</text>
<text x="1132.0" y="1195.0" font-size="14" text-anchor="start" fill="#222" textLength="20" lengthAdjust="spacingAndGlyphs" font-weight="normal" >60</text>
<text x="1164.0" y="1195.0" font-size="14" text-anchor="start" fill="#222" textLength="28" lengthAdjust="spacingAndGlyphs" font-weight="normal" >135</text>
<polygon points="1028.0,1696.0 1116.0,1691.0 1116.0,1712.0 1028.0,1712.0" fill="url(#diag)" stroke="#222" stroke-width="2" stroke-linejoin="miter" />
<rect x="1116.0" y="1685.0" width="16.0" height="44.0" fill="url(#xhatch2)" stroke="#222" stroke-width="2" />
<rect x="1028.0" y="1712.0" width="25.0" height="64.0" fill="url(#diag)" stroke="#222" stroke-width="2" />
<polyline points="1053.0,1712.0 1091.0,1733.3 1053.0,1754.7 1091.0,1776.0" fill="none" stroke="#333" stroke-width="1.5" stroke-linejoin="miter" />
<rect x="1071.0" y="1712.0" width="45.0" height="17.0" fill="none" stroke="#222" stroke-width="1.5" />
<rect x="1091.0" y="1712.0" width="270.0" height="56.0" fill="#abbdb9"  />
<line x1="1091.0" y1="1712.0" x2="1361.0" y2="1712.0" stroke="#222" stroke-width="2.4" />
<line x1="1091.0" y1="1768.0" x2="1361.0" y2="1768.0" stroke="#222" stroke-width="2.4" />
<line x1="1132.0" y1="1729.0" x2="1132.0" y2="1712.0" stroke="#222" stroke-width="2" />
<line x1="1091.0" y1="1754.8" x2="1361.0" y2="1754.8" stroke="#222" stroke-width="1.8" />
<line x1="1361.0" y1="1712.0" x2="1361.0" y2="1768.0" stroke="#222" stroke-width="1.2" />
<line x1="1132.0" y1="1687.4" x2="1361.0" y2="1687.4" stroke="#222" stroke-width="1.6" />
<line x1="1132.0" y1="1694.5" x2="1361.0" y2="1694.5" stroke="#222" stroke-width="1.6" />
<rect x="1071.0" y="1768.0" width="20.0" height="28.0" fill="#abbdb9" stroke="#222" stroke-width="1.8" />
<rect x="1091.0" y="1768.0" width="22.0" height="28.0" fill="#abbdb9" stroke="#222" stroke-width="1.8" />
<circle cx="1127.6" cy="1782.0" r="7.0" fill="none" stroke="#222" stroke-width="1.6"/>
<rect x="1144.0" y="1768.0" width="21.0" height="28.0" fill="#abbdb9" stroke="#222" stroke-width="1.8" />
<line x1="1165.0" y1="1786.7" x2="1450.0" y2="1786.7" stroke="#222" stroke-width="1.8" />
<line x1="1072.0" y1="1796.0" x2="1072.0" y2="1888.0" stroke="#222" stroke-width="1.6" />
<line x1="1090.0" y1="1796.0" x2="1090.0" y2="1888.0" stroke="#222" stroke-width="1.6" />
<rect x="1072.0" y="1874.0" width="18.0" height="16.0" fill="none" stroke="#222" stroke-width="1.5" />
<line x1="1028.4" y1="1790.0" x2="1028.4" y2="1838.0" stroke="#222" stroke-width="1.6" />
<line x1="1028.0" y1="1823.3" x2="1090.0" y2="1823.3" stroke="#222" stroke-width="1.6" />
<circle cx="1028.4" cy="1823.3" r="4" fill="#222"/>
<circle cx="1072.0" cy="1823.3" r="4" fill="#222"/>
<circle cx="1088.0" cy="1823.3" r="4" fill="#222"/>
<text x="1038.0" y="1815.0" font-size="14" text-anchor="start" fill="#222" textLength="26" lengthAdjust="spacingAndGlyphs" font-weight="normal" >180</text>
<text x="1089.0" y="1815.0" font-size="14" text-anchor="start" fill="#222" textLength="46" lengthAdjust="spacingAndGlyphs" font-weight="normal" >60-10</text>
<line x1="1447.0" y1="849.5" x2="1447.0" y2="2560.0" stroke="#222" stroke-width="2" />
<circle cx="1447.0" cy="849.5" r="4" fill="#222"/>
<circle cx="1447.0" cy="903.0" r="4" fill="#222"/>
<circle cx="1447.0" cy="1694.5" r="4" fill="#222"/>
<circle cx="1447.0" cy="1767.0" r="4" fill="#222"/>
<circle cx="1447.0" cy="1786.7" r="4" fill="#222"/>
<circle cx="1447.0" cy="1890.6" r="4" fill="#222"/>
<circle cx="1447.0" cy="1909.0" r="4" fill="#222"/>
<circle cx="1447.0" cy="2091.6" r="4" fill="#222"/>
<circle cx="1447.0" cy="2437.8" r="4" fill="#222"/>
<circle cx="1447.0" cy="2456.0" r="4" fill="#222"/>
<circle cx="1447.0" cy="2554.6" r="4" fill="#222"/>
<text x="1440.0" y="876.2" font-size="14" text-anchor="middle" fill="#222" textLength="24" lengthAdjust="spacingAndGlyphs" transform="rotate(-90 1440.0 876.2)" font-weight="normal" >220</text>
<text x="1440.0" y="1298.8" font-size="14" text-anchor="middle" fill="#222" textLength="32" lengthAdjust="spacingAndGlyphs" transform="rotate(-90 1440.0 1298.8)" font-weight="normal" >3200</text>
<text x="1440.0" y="1730.8" font-size="14" text-anchor="middle" fill="#222" textLength="24" lengthAdjust="spacingAndGlyphs" transform="rotate(-90 1440.0 1730.8)" font-weight="normal" >290</text>
<text x="1440.0" y="1838.7" font-size="14" text-anchor="middle" fill="#222" textLength="24" lengthAdjust="spacingAndGlyphs" transform="rotate(-90 1440.0 1838.7)" font-weight="normal" >408</text>
<text x="1440.0" y="2000.3" font-size="14" text-anchor="middle" fill="#222" textLength="24" lengthAdjust="spacingAndGlyphs" transform="rotate(-90 1440.0 2000.3)" font-weight="normal" >737</text>
<text x="1440.0" y="2264.7" font-size="14" text-anchor="middle" fill="#222" textLength="32" lengthAdjust="spacingAndGlyphs" transform="rotate(-90 1440.0 2264.7)" font-weight="normal" >1400</text>
<text x="1440.0" y="2505.3" font-size="14" text-anchor="middle" fill="#222" textLength="24" lengthAdjust="spacingAndGlyphs" transform="rotate(-90 1440.0 2505.3)" font-weight="normal" >400</text>
<text x="1440.0" y="1776.0" font-size="11" text-anchor="middle" fill="#222" textLength="14" lengthAdjust="spacingAndGlyphs" transform="rotate(-90 1440.0 1776.0)" font-weight="normal" >80</text>
<text x="1440.0" y="1880.0" font-size="11" text-anchor="middle" fill="#222" textLength="14" lengthAdjust="spacingAndGlyphs" transform="rotate(-90 1440.0 1880.0)" font-weight="normal" >20</text>
<text x="1440.0" y="1900.0" font-size="11" text-anchor="middle" fill="#222" textLength="14" lengthAdjust="spacingAndGlyphs" transform="rotate(-90 1440.0 1900.0)" font-weight="normal" >65</text>
<text x="1440.0" y="2422.0" font-size="12" text-anchor="middle" fill="#222" textLength="15" lengthAdjust="spacingAndGlyphs" transform="rotate(-90 1440.0 2422.0)" font-weight="normal" >70</text>
<line x1="1425.0" y1="1694.5" x2="1465.0" y2="1694.5" stroke="#222" stroke-width="1.3" />
<line x1="1425.0" y1="1767.0" x2="1465.0" y2="1767.0" stroke="#222" stroke-width="1.3" />
<line x1="1425.0" y1="1786.7" x2="1465.0" y2="1786.7" stroke="#222" stroke-width="1.3" />
<line x1="1425.0" y1="1890.6" x2="1465.0" y2="1890.6" stroke="#222" stroke-width="1.3" />
<line x1="1425.0" y1="1909.0" x2="1465.0" y2="1909.0" stroke="#222" stroke-width="1.3" />
<line x1="1425.0" y1="2091.6" x2="1465.0" y2="2091.6" stroke="#222" stroke-width="1.3" />
<line x1="1425.0" y1="2437.8" x2="1465.0" y2="2437.8" stroke="#222" stroke-width="1.3" />
<line x1="1425.0" y1="2456.0" x2="1465.0" y2="2456.0" stroke="#222" stroke-width="1.3" />
<line x1="1425.0" y1="2554.6" x2="1465.0" y2="2554.6" stroke="#222" stroke-width="1.3" />
<line x1="1496.3" y1="1767.0" x2="1496.3" y2="2440.0" stroke="#222" stroke-width="2" />
<circle cx="1496.3" cy="1767.0" r="4" fill="#222"/>
<circle cx="1496.3" cy="2437.8" r="4" fill="#222"/>
<text x="1489.0" y="2100.0" font-size="14" text-anchor="middle" fill="#222" textLength="33" lengthAdjust="spacingAndGlyphs" transform="rotate(-90 1489.0 2100.0)" font-weight="normal" >2710</text>
<line x1="1397.7" y1="1680.0" x2="1397.7" y2="1775.0" stroke="#222" stroke-width="1.8" />
<circle cx="1397.7" cy="1688.0" r="3.5" fill="#222"/>
<circle cx="1397.7" cy="1695.0" r="3.5" fill="#222"/>
<circle cx="1397.7" cy="1713.0" r="3.5" fill="#222"/>
<circle cx="1397.7" cy="1767.0" r="3.5" fill="#222"/>
<text x="1392.0" y="1740.0" font-size="11" text-anchor="middle" fill="#222" textLength="20" lengthAdjust="spacingAndGlyphs" transform="rotate(-90 1392.0 1740.0)" font-weight="normal" >250</text>
<line x1="1397.7" y1="2415.0" x2="1397.7" y2="2560.0" stroke="#222" stroke-width="1.8" />
<circle cx="1397.7" cy="2430.0" r="3.5" fill="#222"/>
<circle cx="1397.7" cy="2436.5" r="3.5" fill="#222"/>
<circle cx="1397.7" cy="2456.0" r="3.5" fill="#222"/>
<circle cx="1397.7" cy="2516.5" r="3.5" fill="#222"/>
<circle cx="1397.7" cy="2554.6" r="3.5" fill="#222"/>
<line x1="1373.0" y1="2430.0" x2="1412.0" y2="2430.0" stroke="#222" stroke-width="1.3" />
<line x1="1373.0" y1="2437.8" x2="1412.0" y2="2437.8" stroke="#222" stroke-width="1.3" />
<line x1="1373.0" y1="2456.0" x2="1412.0" y2="2456.0" stroke="#222" stroke-width="1.3" />
<line x1="1373.0" y1="2516.5" x2="1412.0" y2="2516.5" stroke="#222" stroke-width="1.3" />
<line x1="1373.0" y1="2554.6" x2="1412.0" y2="2554.6" stroke="#222" stroke-width="1.3" />
<line x1="1420.0" y1="2437.8" x2="1465.0" y2="2437.8" stroke="#222" stroke-width="1.3" />
<line x1="1420.0" y1="2456.0" x2="1465.0" y2="2456.0" stroke="#222" stroke-width="1.3" />
<line x1="1420.0" y1="2554.6" x2="1465.0" y2="2554.6" stroke="#222" stroke-width="1.3" />
<text x="1390.0" y="2485.0" font-size="10" text-anchor="middle" fill="#222" textLength="18" lengthAdjust="spacingAndGlyphs" transform="rotate(-90 1390.0 2485.0)" font-weight="normal" >250</text>
<text x="1390.0" y="2535.0" font-size="10" text-anchor="middle" fill="#222" textLength="18" lengthAdjust="spacingAndGlyphs" transform="rotate(-90 1390.0 2535.0)" font-weight="normal" >100</text>
<line x1="1020.0" y1="1995.0" x2="1170.0" y2="1995.0" stroke="#222" stroke-width="1.6" />
<circle cx="1028.0" cy="1995.0" r="4" fill="#222"/>
<circle cx="1059.0" cy="1995.0" r="4" fill="#222"/>
<circle cx="1091.0" cy="1995.0" r="4" fill="#222"/>
<circle cx="1165.0" cy="1995.0" r="4" fill="#222"/>
<text x="1000.0" y="1988.0" font-size="14" text-anchor="start" fill="#222" textLength="24" lengthAdjust="spacingAndGlyphs" font-weight="normal" >100</text>
<text x="1060.0" y="1988.0" font-size="14" text-anchor="start" fill="#222" textLength="24" lengthAdjust="spacingAndGlyphs" font-weight="normal" >150</text>
<text x="1113.0" y="1988.0" font-size="14" text-anchor="start" fill="#222" textLength="26" lengthAdjust="spacingAndGlyphs" font-weight="normal" >300</text>
<circle cx="2052.0" cy="371.0" r="25.5" fill="none" stroke="#222" stroke-width="2"/>
<text x="2052.0" y="384.0" font-size="34" text-anchor="middle" fill="#222" textLength="17" lengthAdjust="spacingAndGlyphs" font-weight="normal" >4</text>
<line x1="2052.0" y1="397.0" x2="2052.0" y2="500.0" stroke="#222" stroke-width="2" />
<line x1="2052.0" y1="500.0" x2="2052.0" y2="537.0" stroke="#222" stroke-width="2.2" stroke-dasharray="12 10" stroke-dashoffset="0"/>
<text x="2202.0" y="426.0" font-size="15.5" text-anchor="start" fill="#222" textLength="107" lengthAdjust="spacingAndGlyphs" font-weight="normal" >dakbedekking</text>
<text x="2202.0" y="446.8" font-size="15.5" text-anchor="start" fill="#222" textLength="181" lengthAdjust="spacingAndGlyphs" font-weight="normal" >hoogwaardige isolatie</text>
<text x="2202.0" y="467.6" font-size="15.5" text-anchor="start" fill="#222" textLength="50" lengthAdjust="spacingAndGlyphs" font-weight="normal" >Rc=3,0</text>
<text x="2202.0" y="488.4" font-size="15.5" text-anchor="start" fill="#222" textLength="183" lengthAdjust="spacingAndGlyphs" font-weight="normal" >afschollaag 16mm/1m'</text>
<text x="2202.0" y="509.2" font-size="15.5" text-anchor="start" fill="#222" textLength="167" lengthAdjust="spacingAndGlyphs" font-weight="normal" >dampremmende laag</text>
<text x="2202.0" y="530.0" font-size="15.5" text-anchor="start" fill="#222" textLength="152" lengthAdjust="spacingAndGlyphs" font-weight="normal" >betonnen dakvloer</text>
<text x="1612.0" y="539.0" font-size="23" text-anchor="start" fill="#222" textLength="61.0" lengthAdjust="spacingAndGlyphs" font-weight="normal" >5452+</text>
<text x="1612.0" y="556.0" font-size="14.5" text-anchor="start" fill="#222" textLength="117.0" lengthAdjust="spacingAndGlyphs" font-weight="normal" >bk gevelsteen</text>
<line x1="1612.0" y1="542.5" x2="1989.0" y2="542.5" stroke="#222" stroke-width="1.9" stroke-dasharray="76 16 16 16 16 15.5" stroke-dashoffset="0"/>
<text x="1612.0" y="597.5" font-size="23" text-anchor="start" fill="#222" textLength="61.0" lengthAdjust="spacingAndGlyphs" font-weight="normal" >5220+</text>
<text x="1612.0" y="614.5" font-size="14.5" text-anchor="start" fill="#222" textLength="117.0" lengthAdjust="spacingAndGlyphs" font-weight="normal" >bk ruwe vloer</text>
<line x1="1612.0" y1="601.0" x2="1989.0" y2="601.0" stroke="#222" stroke-width="1.9" stroke-dasharray="76 16 16 16 16 15.5" stroke-dashoffset="0"/>
<text x="1612.0" y="668.5" font-size="23" text-anchor="start" fill="#222" textLength="61.0" lengthAdjust="spacingAndGlyphs" font-weight="normal" >4934+</text>
<text x="1612.0" y="685.5" font-size="14.5" text-anchor="start" fill="#222" textLength="144.0" lengthAdjust="spacingAndGlyphs" font-weight="normal" >ok buitenplafond</text>
<line x1="1612.0" y1="672.0" x2="1989.0" y2="672.0" stroke="#222" stroke-width="1.9" stroke-dasharray="76 16 16 16 16 15.5" stroke-dashoffset="0"/>
<text x="1612.0" y="787.9" font-size="23" text-anchor="start" fill="#222" textLength="61.0" lengthAdjust="spacingAndGlyphs" font-weight="normal" >4449+</text>
<text x="1612.0" y="804.9" font-size="14.5" text-anchor="start" fill="#222" textLength="117.0" lengthAdjust="spacingAndGlyphs" font-weight="normal" >ok gevelsteen</text>
<line x1="1612.0" y1="791.4" x2="1989.0" y2="791.4" stroke="#222" stroke-width="1.9" stroke-dasharray="76 16 16 16 16 15.5" stroke-dashoffset="0"/>
<text x="1612.0" y="1099.1" font-size="23" text-anchor="start" fill="#222" textLength="61.0" lengthAdjust="spacingAndGlyphs" font-weight="normal" >3193+</text>
<text x="1612.0" y="1116.1" font-size="14.5" text-anchor="start" fill="#222" textLength="135.0" lengthAdjust="spacingAndGlyphs" font-weight="normal" >bk muurafdekker</text>
<line x1="1612.0" y1="1102.6" x2="1989.0" y2="1102.6" stroke="#222" stroke-width="1.9" stroke-dasharray="76 16 16 16 16 15.5" stroke-dashoffset="0"/>
<text x="1612.0" y="1224.5" font-size="23" text-anchor="start" fill="#222" textLength="61.0" lengthAdjust="spacingAndGlyphs" font-weight="normal" >2685+</text>
<text x="1612.0" y="1241.5" font-size="14.5" text-anchor="start" fill="#222" textLength="117.0" lengthAdjust="spacingAndGlyphs" font-weight="normal" >ok gevelsteen</text>
<line x1="1612.0" y1="1228.0" x2="1989.0" y2="1228.0" stroke="#222" stroke-width="1.9" stroke-dasharray="76 16 16 16 16 15.5" stroke-dashoffset="0"/>
<text x="1612.0" y="1889.5" font-size="23" text-anchor="start" fill="#222" textLength="63" lengthAdjust="spacingAndGlyphs" font-weight="normal" >Peil=0</text>
<line x1="1612.0" y1="1893.0" x2="1989.0" y2="1893.0" stroke="#222" stroke-width="1.9" stroke-dasharray="76 16 16 16 16 15.5" stroke-dashoffset="0"/>
<line x1="1808.0" y1="538.0" x2="1808.0" y2="1897.0" stroke="#222" stroke-width="2" />
<circle cx="1808.0" cy="542.5" r="4" fill="#222"/>
<circle cx="1808.0" cy="601.0" r="4" fill="#222"/>
<circle cx="1808.0" cy="672.0" r="4" fill="#222"/>
<circle cx="1808.0" cy="791.4" r="4" fill="#222"/>
<circle cx="1808.0" cy="1102.6" r="4" fill="#222"/>
<circle cx="1808.0" cy="1228.0" r="4" fill="#222"/>
<circle cx="1808.0" cy="1893.0" r="4" fill="#222"/>
<text x="1800.0" y="571.8" font-size="15" text-anchor="middle" fill="#222" textLength="25.5" lengthAdjust="spacingAndGlyphs" transform="rotate(-90 1800.0 571.8)" font-weight="normal" >232</text>
<text x="1800.0" y="636.5" font-size="15" text-anchor="middle" fill="#222" textLength="25.5" lengthAdjust="spacingAndGlyphs" transform="rotate(-90 1800.0 636.5)" font-weight="normal" >286</text>
<text x="1800.0" y="731.7" font-size="15" text-anchor="middle" fill="#222" textLength="25.5" lengthAdjust="spacingAndGlyphs" transform="rotate(-90 1800.0 731.7)" font-weight="normal" >485</text>
<text x="1800.0" y="947.0" font-size="15" text-anchor="middle" fill="#222" textLength="34.0" lengthAdjust="spacingAndGlyphs" transform="rotate(-90 1800.0 947.0)" font-weight="normal" >1256</text>
<text x="1800.0" y="1165.3" font-size="15" text-anchor="middle" fill="#222" textLength="25.5" lengthAdjust="spacingAndGlyphs" transform="rotate(-90 1800.0 1165.3)" font-weight="normal" >508</text>
<text x="1800.0" y="1560.5" font-size="15" text-anchor="middle" fill="#222" textLength="34.0" lengthAdjust="spacingAndGlyphs" transform="rotate(-90 1800.0 1560.5)" font-weight="normal" >2685</text>
<line x1="1909.6" y1="1225.0" x2="1909.6" y2="1897.0" stroke="#222" stroke-width="2" />
<circle cx="1909.6" cy="1228.0" r="4" fill="#222"/>
<circle cx="1909.6" cy="1384.0" r="4" fill="#222"/>
<circle cx="1909.6" cy="1556.7" r="4" fill="#222"/>
<circle cx="1909.6" cy="1618.0" r="4" fill="#222"/>
<circle cx="1909.6" cy="1791.0" r="4" fill="#222"/>
<circle cx="1909.6" cy="1893.8" r="4" fill="#222"/>
<text x="1902.0" y="1306.0" font-size="15" text-anchor="middle" fill="#222" textLength="25.5" lengthAdjust="spacingAndGlyphs" transform="rotate(-90 1902.0 1306.0)" font-weight="normal" >630</text>
<text x="1902.0" y="1470.3" font-size="15" text-anchor="middle" fill="#222" textLength="25.5" lengthAdjust="spacingAndGlyphs" transform="rotate(-90 1902.0 1470.3)" font-weight="normal" >698</text>
<text x="1902.0" y="1587.3" font-size="15" text-anchor="middle" fill="#222" textLength="25.5" lengthAdjust="spacingAndGlyphs" transform="rotate(-90 1902.0 1587.3)" font-weight="normal" >247</text>
<text x="1902.0" y="1704.5" font-size="15" text-anchor="middle" fill="#222" textLength="25.5" lengthAdjust="spacingAndGlyphs" transform="rotate(-90 1902.0 1704.5)" font-weight="normal" >698</text>
<text x="1902.0" y="1842.4" font-size="15" text-anchor="middle" fill="#222" textLength="25.5" lengthAdjust="spacingAndGlyphs" transform="rotate(-90 1902.0 1842.4)" font-weight="normal" >412</text>
<line x1="1895.0" y1="1384.0" x2="1978.0" y2="1384.0" stroke="#222" stroke-width="1.6" />
<line x1="1895.0" y1="1556.7" x2="1978.0" y2="1556.7" stroke="#222" stroke-width="1.6" />
<line x1="1895.0" y1="1618.0" x2="1978.0" y2="1618.0" stroke="#222" stroke-width="1.6" />
<line x1="1895.0" y1="1791.0" x2="1978.0" y2="1791.0" stroke="#222" stroke-width="1.6" />
<line x1="2088.0" y1="682.6" x2="2615.0" y2="682.6" stroke="#555" stroke-width="1.9" />
<line x1="2088.0" y1="698.2" x2="2615.0" y2="698.2" stroke="#555" stroke-width="1.9" />
<line x1="2088.0" y1="713.8" x2="2615.0" y2="713.8" stroke="#555" stroke-width="1.9" />
<line x1="2088.0" y1="729.5" x2="2615.0" y2="729.5" stroke="#555" stroke-width="1.9" />
<line x1="2088.0" y1="745.1" x2="2615.0" y2="745.1" stroke="#555" stroke-width="1.9" />
<line x1="2088.0" y1="760.7" x2="2615.0" y2="760.7" stroke="#555" stroke-width="1.9" />
<line x1="2088.0" y1="776.3" x2="2615.0" y2="776.3" stroke="#555" stroke-width="1.9" />
<line x1="2088.0" y1="791.9" x2="2615.0" y2="791.9" stroke="#555" stroke-width="1.9" />
<line x1="1991.0" y1="807.6" x2="2076.0" y2="807.6" stroke="#555" stroke-width="1.9" />
<line x1="2088.0" y1="807.6" x2="2615.0" y2="807.6" stroke="#555" stroke-width="1.9" />
<line x1="1991.0" y1="823.2" x2="2076.0" y2="823.2" stroke="#555" stroke-width="1.9" />
<line x1="2088.0" y1="823.2" x2="2615.0" y2="823.2" stroke="#555" stroke-width="1.9" />
<line x1="1991.0" y1="838.8" x2="2076.0" y2="838.8" stroke="#555" stroke-width="1.9" />
<line x1="2088.0" y1="838.8" x2="2615.0" y2="838.8" stroke="#555" stroke-width="1.9" />
<line x1="1991.0" y1="854.4" x2="2076.0" y2="854.4" stroke="#555" stroke-width="1.9" />
<line x1="2088.0" y1="854.4" x2="2615.0" y2="854.4" stroke="#555" stroke-width="1.9" />
<line x1="1991.0" y1="870.0" x2="2076.0" y2="870.0" stroke="#555" stroke-width="1.9" />
<line x1="2088.0" y1="870.0" x2="2615.0" y2="870.0" stroke="#555" stroke-width="1.9" />
<line x1="1991.0" y1="885.7" x2="2076.0" y2="885.7" stroke="#555" stroke-width="1.9" />
<line x1="2088.0" y1="885.7" x2="2615.0" y2="885.7" stroke="#555" stroke-width="1.9" />
<line x1="1991.0" y1="901.3" x2="2076.0" y2="901.3" stroke="#555" stroke-width="1.9" />
<line x1="2088.0" y1="901.3" x2="2615.0" y2="901.3" stroke="#555" stroke-width="1.9" />
<line x1="1991.0" y1="916.9" x2="2076.0" y2="916.9" stroke="#555" stroke-width="1.9" />
<line x1="2088.0" y1="916.9" x2="2615.0" y2="916.9" stroke="#555" stroke-width="1.9" />
<line x1="1991.0" y1="932.5" x2="2076.0" y2="932.5" stroke="#555" stroke-width="1.9" />
<line x1="2088.0" y1="932.5" x2="2615.0" y2="932.5" stroke="#555" stroke-width="1.9" />
<line x1="1991.0" y1="948.1" x2="2076.0" y2="948.1" stroke="#555" stroke-width="1.9" />
<line x1="2088.0" y1="948.1" x2="2615.0" y2="948.1" stroke="#555" stroke-width="1.9" />
<line x1="1991.0" y1="963.8" x2="2076.0" y2="963.8" stroke="#555" stroke-width="1.9" />
<line x1="2088.0" y1="963.8" x2="2615.0" y2="963.8" stroke="#555" stroke-width="1.9" />
<line x1="1991.0" y1="979.4" x2="2076.0" y2="979.4" stroke="#555" stroke-width="1.9" />
<line x1="2088.0" y1="979.4" x2="2615.0" y2="979.4" stroke="#555" stroke-width="1.9" />
<line x1="1991.0" y1="995.0" x2="2076.0" y2="995.0" stroke="#555" stroke-width="1.9" />
<line x1="2088.0" y1="995.0" x2="2615.0" y2="995.0" stroke="#555" stroke-width="1.9" />
<line x1="1991.0" y1="1010.6" x2="2076.0" y2="1010.6" stroke="#555" stroke-width="1.9" />
<line x1="2088.0" y1="1010.6" x2="2615.0" y2="1010.6" stroke="#555" stroke-width="1.9" />
<line x1="1991.0" y1="1026.2" x2="2076.0" y2="1026.2" stroke="#555" stroke-width="1.9" />
<line x1="2088.0" y1="1026.2" x2="2615.0" y2="1026.2" stroke="#555" stroke-width="1.9" />
<line x1="1991.0" y1="1041.9" x2="2076.0" y2="1041.9" stroke="#555" stroke-width="1.9" />
<line x1="2088.0" y1="1041.9" x2="2615.0" y2="1041.9" stroke="#555" stroke-width="1.9" />
<line x1="1991.0" y1="1057.5" x2="2076.0" y2="1057.5" stroke="#555" stroke-width="1.9" />
<line x1="2088.0" y1="1057.5" x2="2615.0" y2="1057.5" stroke="#555" stroke-width="1.9" />
<line x1="1991.0" y1="1073.1" x2="2076.0" y2="1073.1" stroke="#555" stroke-width="1.9" />
<line x1="2088.0" y1="1073.1" x2="2615.0" y2="1073.1" stroke="#555" stroke-width="1.9" />
<line x1="1991.0" y1="1088.7" x2="2076.0" y2="1088.7" stroke="#555" stroke-width="1.9" />
<line x1="2088.0" y1="1088.7" x2="2615.0" y2="1088.7" stroke="#555" stroke-width="1.9" />
<line x1="2088.0" y1="1104.3" x2="2615.0" y2="1104.3" stroke="#555" stroke-width="1.9" />
<line x1="2088.0" y1="1120.0" x2="2615.0" y2="1120.0" stroke="#555" stroke-width="1.9" />
<line x1="2088.0" y1="1135.6" x2="2615.0" y2="1135.6" stroke="#555" stroke-width="1.9" />
<line x1="2088.0" y1="1151.2" x2="2615.0" y2="1151.2" stroke="#555" stroke-width="1.9" />
<line x1="2088.0" y1="1166.8" x2="2615.0" y2="1166.8" stroke="#555" stroke-width="1.9" />
<line x1="2088.0" y1="1182.4" x2="2615.0" y2="1182.4" stroke="#555" stroke-width="1.9" />
<line x1="2088.0" y1="1198.1" x2="2615.0" y2="1198.1" stroke="#555" stroke-width="1.9" />
<line x1="2088.0" y1="1213.7" x2="2615.0" y2="1213.7" stroke="#555" stroke-width="1.9" />
<line x1="2088.0" y1="1229.3" x2="2615.0" y2="1229.3" stroke="#555" stroke-width="1.9" />
<line x1="1991.0" y1="1244.9" x2="2615.0" y2="1244.9" stroke="#555" stroke-width="1.9" />
<line x1="1991.0" y1="1260.5" x2="2615.0" y2="1260.5" stroke="#555" stroke-width="1.9" />
<line x1="1991.0" y1="1276.2" x2="2615.0" y2="1276.2" stroke="#555" stroke-width="1.9" />
<line x1="1991.0" y1="1291.8" x2="2615.0" y2="1291.8" stroke="#555" stroke-width="1.9" />
<line x1="1991.0" y1="1307.4" x2="2615.0" y2="1307.4" stroke="#555" stroke-width="1.9" />
<line x1="1991.0" y1="1323.0" x2="2615.0" y2="1323.0" stroke="#555" stroke-width="1.9" />
<line x1="1991.0" y1="1338.6" x2="2615.0" y2="1338.6" stroke="#555" stroke-width="1.9" />
<line x1="1991.0" y1="1354.3" x2="2615.0" y2="1354.3" stroke="#555" stroke-width="1.9" />
<line x1="1991.0" y1="1369.9" x2="2615.0" y2="1369.9" stroke="#555" stroke-width="1.9" />
<line x1="1991.0" y1="1385.5" x2="2615.0" y2="1385.5" stroke="#555" stroke-width="1.9" />
<line x1="1991.0" y1="1401.1" x2="2615.0" y2="1401.1" stroke="#555" stroke-width="1.9" />
<line x1="1991.0" y1="1416.7" x2="2615.0" y2="1416.7" stroke="#555" stroke-width="1.9" />
<line x1="1991.0" y1="1432.4" x2="2615.0" y2="1432.4" stroke="#555" stroke-width="1.9" />
<line x1="1991.0" y1="1448.0" x2="2615.0" y2="1448.0" stroke="#555" stroke-width="1.9" />
<line x1="1991.0" y1="1463.6" x2="2615.0" y2="1463.6" stroke="#555" stroke-width="1.9" />
<line x1="1991.0" y1="1479.2" x2="2615.0" y2="1479.2" stroke="#555" stroke-width="1.9" />
<line x1="1991.0" y1="1494.8" x2="2615.0" y2="1494.8" stroke="#555" stroke-width="1.9" />
<line x1="1991.0" y1="1510.5" x2="2615.0" y2="1510.5" stroke="#555" stroke-width="1.9" />
<line x1="1991.0" y1="1526.1" x2="2615.0" y2="1526.1" stroke="#555" stroke-width="1.9" />
<line x1="1991.0" y1="1541.7" x2="2615.0" y2="1541.7" stroke="#555" stroke-width="1.9" />
<line x1="1991.0" y1="1557.3" x2="2615.0" y2="1557.3" stroke="#555" stroke-width="1.9" />
<line x1="1991.0" y1="1572.9" x2="2615.0" y2="1572.9" stroke="#555" stroke-width="1.9" />
<line x1="1991.0" y1="1588.6" x2="2615.0" y2="1588.6" stroke="#555" stroke-width="1.9" />
<line x1="1991.0" y1="1604.2" x2="2615.0" y2="1604.2" stroke="#555" stroke-width="1.9" />
<line x1="1991.0" y1="1619.8" x2="2615.0" y2="1619.8" stroke="#555" stroke-width="1.9" />
<line x1="1991.0" y1="1635.4" x2="2615.0" y2="1635.4" stroke="#555" stroke-width="1.9" />
<line x1="1991.0" y1="1651.0" x2="2615.0" y2="1651.0" stroke="#555" stroke-width="1.9" />
<line x1="1991.0" y1="1666.7" x2="2615.0" y2="1666.7" stroke="#555" stroke-width="1.9" />
<line x1="1991.0" y1="1682.3" x2="2615.0" y2="1682.3" stroke="#555" stroke-width="1.9" />
<line x1="1991.0" y1="1697.9" x2="2615.0" y2="1697.9" stroke="#555" stroke-width="1.9" />
<line x1="1991.0" y1="1713.5" x2="2615.0" y2="1713.5" stroke="#555" stroke-width="1.9" />
<line x1="1991.0" y1="1729.1" x2="2615.0" y2="1729.1" stroke="#555" stroke-width="1.9" />
<line x1="1991.0" y1="1744.8" x2="2615.0" y2="1744.8" stroke="#555" stroke-width="1.9" />
<line x1="1991.0" y1="1760.4" x2="2615.0" y2="1760.4" stroke="#555" stroke-width="1.9" />
<line x1="1991.0" y1="1776.0" x2="2615.0" y2="1776.0" stroke="#555" stroke-width="1.9" />
<line x1="1991.0" y1="1791.6" x2="2615.0" y2="1791.6" stroke="#555" stroke-width="1.9" />
<line x1="1991.0" y1="1807.2" x2="2615.0" y2="1807.2" stroke="#555" stroke-width="1.9" />
<line x1="1991.0" y1="1822.9" x2="2615.0" y2="1822.9" stroke="#555" stroke-width="1.9" />
<line x1="1991.0" y1="1838.5" x2="2615.0" y2="1838.5" stroke="#555" stroke-width="1.9" />
<line x1="1991.0" y1="1854.1" x2="2615.0" y2="1854.1" stroke="#555" stroke-width="1.9" />
<line x1="1991.0" y1="1869.7" x2="2615.0" y2="1869.7" stroke="#555" stroke-width="1.9" />
<line x1="1991.0" y1="1885.3" x2="2615.0" y2="1885.3" stroke="#555" stroke-width="1.9" />
<rect x="1984.0" y="534.0" width="99.0" height="6.0" fill="#2f4a48"  />
<rect x="1989.0" y="540.0" width="26.6" height="251.4" fill="#fff" stroke="#1e1e1e" stroke-width="2.6" />
<path d="M1989.0,541.0H2015.6 M1993.0,543.5L2011.6,554.1 M1989.0,556.6H2015.6 M1993.0,559.1L2011.6,569.7 M1989.0,572.2H2015.6 M1993.0,574.7L2011.6,585.4 M1989.0,587.9H2015.6 M1993.0,590.4L2011.6,601.0 M1989.0,603.5H2015.6 M1993.0,606.0L2011.6,616.6 M1989.0,619.1H2015.6 M1993.0,621.6L2011.6,632.2 M1989.0,634.7H2015.6 M1993.0,637.2L2011.6,647.8 M1989.0,650.3H2015.6 M1993.0,652.8L2011.6,663.5 M1989.0,666.0H2015.6 M1993.0,668.5L2011.6,679.1 M1989.0,681.6H2015.6 M1993.0,684.1L2011.6,694.7 M1989.0,697.2H2015.6 M1993.0,699.7L2011.6,710.3 M1989.0,712.8H2015.6 M1993.0,715.3L2011.6,725.9 M1989.0,728.4H2015.6 M1993.0,730.9L2011.6,741.6 M1989.0,744.1H2015.6 M1993.0,746.6L2011.6,757.2 M1989.0,759.7H2015.6 M1993.0,762.2L2011.6,772.8 M1989.0,775.3H2015.6 M1993.0,777.8L2011.6,788.4" fill="none" stroke="#1e1e1e" stroke-width="2.0"/>
<line x1="2021.0" y1="560.0" x2="2051.0" y2="556.0" stroke="#222" stroke-width="1.6" />
<line x1="2021.0" y1="560.0" x2="2021.0" y2="791.0" stroke="#222" stroke-width="1.6" />
<polyline points="2021.0,560.0 2051.0,582.4 2021.0,604.8 2051.0,627.2 2021.0,649.6 2051.0,672.0" fill="none" stroke="#333" stroke-width="1.5" stroke-linejoin="miter" />
<rect x="2051.0" y="545.0" width="30.0" height="56.0" fill="url(#xhatch2)" stroke="#222" stroke-width="2.2" />
<rect x="2051.0" y="672.0" width="26.0" height="119.4" fill="#fff" stroke="#1e1e1e" stroke-width="2.6" />
<path d="M2051.0,682.6H2077.0 M2055.0,685.1L2073.0,695.7 M2051.0,698.2H2077.0 M2055.0,700.7L2073.0,711.3 M2051.0,713.8H2077.0 M2055.0,716.3L2073.0,727.0 M2051.0,729.5H2077.0 M2055.0,732.0L2073.0,742.6 M2051.0,745.1H2077.0 M2055.0,747.6L2073.0,758.2 M2051.0,760.7H2077.0 M2055.0,763.2L2073.0,773.8 M2051.0,776.3H2077.0 M2055.0,778.8L2073.0,788.9" fill="none" stroke="#1e1e1e" stroke-width="2.0"/>
<path d="M2025,760 L2047,760 M2036,760 L2036,790" fill="none" stroke="#222" stroke-width="3" />
<line x1="1989.0" y1="791.4" x2="2077.0" y2="791.4" stroke="#222" stroke-width="2.4" />
<line x1="2083.0" y1="535.5" x2="2982.0" y2="535.5" stroke="#222" stroke-width="2.2" />
<line x1="2083.0" y1="543.3" x2="2982.0" y2="543.3" stroke="#222" stroke-width="2.2" />
<polyline points="2081.0,585.3 2099.4,556.3 2117.8,585.3 2136.2,556.8 2154.6,585.3 2172.9,557.4 2191.3,585.3 2209.7,557.9 2228.1,585.3 2246.5,558.5 2264.9,585.3 2283.3,559.1 2301.7,585.3 2320.0,559.6 2338.4,585.3 2356.8,560.2 2375.2,585.3 2393.6,560.7 2412.0,585.3 2430.4,561.3 2448.8,585.3 2467.1,561.8 2485.5,585.3 2503.9,562.4 2522.3,585.3 2540.7,562.9 2559.1,585.3 2577.5,563.5 2595.9,585.3 2614.2,564.0 2632.6,585.3 2651.0,564.6 2669.4,585.3 2687.8,565.2 2706.2,585.3 2724.6,565.7 2743.0,585.3 2761.3,566.3 2779.7,585.3 2798.1,566.8 2816.5,585.3 2834.9,567.4 2853.3,585.3 2871.7,567.9 2890.1,585.3 2908.4,568.5 2926.8,585.3 2945.2,569.0 2963.6,585.3 2982.0,569.6" fill="none" stroke="#222" stroke-width="1.8" stroke-linejoin="miter" />
<rect x="2081.0" y="585.3" width="901.0" height="14.7" fill="url(#xhatch2)"  />
<line x1="2081.0" y1="556.0" x2="2982.0" y2="569.6" stroke="#222" stroke-width="2.6" />
<line x1="2051.0" y1="600.0" x2="2982.0" y2="600.0" stroke="#222" stroke-width="2.6" />
<rect x="2051.0" y="600.0" width="931.0" height="55.0" fill="#abbdb9"  />
<line x1="2051.0" y1="641.8" x2="2982.0" y2="641.8" stroke="#222" stroke-width="2.2" />
<line x1="2051.0" y1="655.0" x2="2982.0" y2="655.0" stroke="#222" stroke-width="2.8" />
<line x1="2982.0" y1="601.0" x2="2982.0" y2="655.0" stroke="#222" stroke-width="1.5" />
<polyline points="2051.0,672.0 2061.1,655.0 2071.2,672.0 2081.4,655.0 2091.5,672.0 2101.6,655.0 2111.8,672.0 2121.9,655.0 2132.0,672.0 2142.1,655.0 2152.2,672.0 2162.4,655.0 2172.5,672.0 2182.6,655.0 2192.8,672.0 2202.9,655.0 2213.0,672.0 2223.1,655.0 2233.2,672.0 2243.4,655.0 2253.5,672.0 2263.6,655.0 2273.8,672.0 2283.9,655.0 2294.0,672.0 2304.1,655.0 2314.2,672.0 2324.4,655.0 2334.5,672.0 2344.6,655.0 2354.8,672.0 2364.9,655.0 2375.0,672.0 2385.1,655.0 2395.2,672.0 2405.4,655.0 2415.5,672.0 2425.6,655.0 2435.8,672.0 2445.9,655.0 2456.0,672.0 2466.1,655.0 2476.2,672.0 2486.4,655.0 2496.5,672.0 2506.6,655.0 2516.8,672.0 2526.9,655.0 2537.0,672.0 2547.1,655.0 2557.2,672.0 2567.4,655.0 2577.5,672.0 2587.6,655.0 2597.8,672.0 2607.9,655.0 2618.0,672.0" fill="none" stroke="#333" stroke-width="1.5" stroke-linejoin="miter" />
<line x1="2051.0" y1="672.0" x2="2618.0" y2="672.0" stroke="#222" stroke-width="2.2" />
<rect x="2647.0" y="628.0" width="27.0" height="27.0" fill="#fff" stroke="#222" stroke-width="2.6" />
<circle cx="2660.0" cy="642.0" r="7.0" fill="#fff" stroke="#222" stroke-width="1.8"/>
<line x1="2665.0" y1="650.0" x2="2700.0" y2="696.0" stroke="#222" stroke-width="1.6" />
<rect x="2619.0" y="655.0" width="17.0" height="33.0" fill="#abbdb9" stroke="#222" stroke-width="2.2" />
<text x="2703.0" y="702.5" font-size="10" text-anchor="start" fill="#444" textLength="210" lengthAdjust="spacingAndGlyphs" font-weight="normal" >sparing 100x100mm t.b.v. rolgordijn</text>
<text x="2703.0" y="717.8" font-size="10" text-anchor="start" fill="#444" textLength="180" lengthAdjust="spacingAndGlyphs" font-weight="normal" >over volledige breedte kozijn</text>
<text x="2703.0" y="733.1" font-size="10" text-anchor="start" fill="#444" textLength="196" lengthAdjust="spacingAndGlyphs" font-weight="normal" >(geldt voor alle verblijfsruimten)</text>
<line x1="2753.6" y1="655.0" x2="2753.6" y2="1894.0" stroke="#222" stroke-width="2" />
<circle cx="2753.6" cy="672.0" r="4" fill="#222"/>
<circle cx="2753.6" cy="1227.0" r="4" fill="#222"/>
<circle cx="2753.6" cy="1289.0" r="4" fill="#222"/>
<circle cx="2753.6" cy="1893.8" r="4" fill="#222"/>
<line x1="2636.0" y1="672.0" x2="2768.0" y2="672.0" stroke="#222" stroke-width="1.6" stroke-dasharray="20 12"/>
<line x1="2636.0" y1="791.4" x2="2768.0" y2="791.4" stroke="#777" stroke-width="1.4" stroke-dasharray="30 14"/>
<text x="2745.0" y="663.0" font-size="12" text-anchor="middle" fill="#222" textLength="14" lengthAdjust="spacingAndGlyphs" transform="rotate(-90 2745.0 663.0)" font-weight="normal" >66</text>
<text x="2745.0" y="946.0" font-size="15" text-anchor="middle" fill="#222" textLength="34" lengthAdjust="spacingAndGlyphs" transform="rotate(-90 2745.0 946.0)" font-weight="normal" >2248</text>
<text x="2745.0" y="1259.0" font-size="15" text-anchor="middle" fill="#222" textLength="25" lengthAdjust="spacingAndGlyphs" transform="rotate(-90 2745.0 1259.0)" font-weight="normal" >250</text>
<text x="2745.0" y="1589.0" font-size="15" text-anchor="middle" fill="#222" textLength="34" lengthAdjust="spacingAndGlyphs" transform="rotate(-90 2745.0 1589.0)" font-weight="normal" >2436</text>
<text x="2745.0" y="1935.0" font-size="15" text-anchor="middle" fill="#222" textLength="25" lengthAdjust="spacingAndGlyphs" transform="rotate(-90 2745.0 1935.0)" font-weight="normal" >270</text>
<text x="2203.0" y="698.0" font-size="14" text-anchor="start" fill="#222" textLength="113" lengthAdjust="spacingAndGlyphs" font-weight="bold" >gevelstucwerk</text>
<line x1="3044.0" y1="533.0" x2="3044.0" y2="2236.0" stroke="#222" stroke-width="2.4" />
<line x1="3004.0" y1="1870.0" x2="3004.0" y2="1913.0" stroke="#222" stroke-width="1.6" />
<circle cx="3004.0" cy="1886.4" r="4" fill="#222"/>
<circle cx="3004.0" cy="1893.8" r="4" fill="#222"/>
<text x="2995.0" y="1873.0" font-size="11" text-anchor="middle" fill="#222" textLength="12" lengthAdjust="spacingAndGlyphs" transform="rotate(-90 2995.0 1873.0)" font-weight="normal" >30</text>
<circle cx="3044.0" cy="542.5" r="4" fill="#222"/>
<circle cx="3044.0" cy="600.0" r="4" fill="#222"/>
<circle cx="3044.0" cy="655.0" r="4" fill="#222"/>
<circle cx="3044.0" cy="1893.8" r="4" fill="#222"/>
<circle cx="3044.0" cy="1910.0" r="4" fill="#222"/>
<circle cx="3044.0" cy="1960.0" r="4" fill="#222"/>
<circle cx="3044.0" cy="2109.0" r="4" fill="#222"/>
<circle cx="3044.0" cy="2233.0" r="4" fill="#222"/>
<text x="3036.0" y="571.2" font-size="15" text-anchor="middle" fill="#222" textLength="25.5" lengthAdjust="spacingAndGlyphs" transform="rotate(-90 3036.0 571.2)" font-weight="normal" >232</text>
<text x="3036.0" y="627.5" font-size="15" text-anchor="middle" fill="#222" textLength="25.5" lengthAdjust="spacingAndGlyphs" transform="rotate(-90 3036.0 627.5)" font-weight="normal" >220</text>
<text x="3036.0" y="1274.4" font-size="15" text-anchor="middle" fill="#222" textLength="34.0" lengthAdjust="spacingAndGlyphs" transform="rotate(-90 3036.0 1274.4)" font-weight="normal" >5000</text>
<text x="3036.0" y="1935.0" font-size="15" text-anchor="middle" fill="#222" textLength="25.5" lengthAdjust="spacingAndGlyphs" transform="rotate(-90 3036.0 1935.0)" font-weight="normal" >200</text>
<text x="3036.0" y="2034.5" font-size="15" text-anchor="middle" fill="#222" textLength="25.5" lengthAdjust="spacingAndGlyphs" transform="rotate(-90 3036.0 2034.5)" font-weight="normal" >600</text>
<text x="3036.0" y="2171.0" font-size="15" text-anchor="middle" fill="#222" textLength="25.5" lengthAdjust="spacingAndGlyphs" transform="rotate(-90 3036.0 2171.0)" font-weight="normal" >500</text>
<text x="3036.0" y="1880.0" font-size="14" text-anchor="middle" fill="#222" textLength="16" lengthAdjust="spacingAndGlyphs" transform="rotate(-90 3036.0 1880.0)" font-weight="normal" >70</text>
<line x1="2990.0" y1="542.5" x2="3070.0" y2="542.5" stroke="#222" stroke-width="1.5" />
<line x1="2990.0" y1="600.0" x2="3070.0" y2="600.0" stroke="#222" stroke-width="1.5" />
<line x1="2990.0" y1="655.0" x2="3070.0" y2="655.0" stroke="#222" stroke-width="1.5" />
<line x1="2995.0" y1="1893.8" x2="3070.0" y2="1893.8" stroke="#222" stroke-width="1.5" />
<line x1="2995.0" y1="1910.0" x2="3070.0" y2="1910.0" stroke="#222" stroke-width="1.5" />
<line x1="2995.0" y1="1960.0" x2="3070.0" y2="1960.0" stroke="#222" stroke-width="1.5" />
<line x1="2995.0" y1="2109.0" x2="3070.0" y2="2109.0" stroke="#222" stroke-width="1.5" />
<line x1="2995.0" y1="2233.0" x2="3070.0" y2="2233.0" stroke="#222" stroke-width="1.5" />
<line x1="2052.0" y1="791.0" x2="2052.0" y2="2000.0" stroke="#444" stroke-width="1.8" stroke-dasharray="60 10 12 10" stroke-dashoffset="0"/>
<line x1="2052.0" y1="2000.0" x2="2052.0" y2="2545.0" stroke="#333" stroke-width="2" stroke-dasharray="90 8 14 8" stroke-dashoffset="0"/>
<line x1="1989.0" y1="791.0" x2="1989.0" y2="1893.0" stroke="#222" stroke-width="2.4" />
<line x1="2077.0" y1="672.0" x2="2077.0" y2="1102.6" stroke="#222" stroke-width="2.2" />
<rect x="1989.0" y="1102.6" width="88.0" height="125.4" fill="#fff" stroke="#222" stroke-width="2.8" />
<clipPath id="c578"><rect x="1989" y="1102.6" width="88" height="16.0"/></clipPath>
<path d="M1973.0,1118.6L1989.0,1102.6 M1987.0,1118.6L2003.0,1102.6 M2001.0,1118.6L2017.0,1102.6 M2015.0,1118.6L2031.0,1102.6 M2029.0,1118.6L2045.0,1102.6 M2043.0,1118.6L2059.0,1102.6 M2057.0,1118.6L2073.0,1102.6 M2071.0,1118.6L2087.0,1102.6 M2085.0,1118.6L2101.0,1102.6" stroke="#222" stroke-width="1.8" clip-path="url(#c578)"/>
<rect x="1989.0" y="1102.6" width="88.0" height="16.0" fill="none" stroke="#222" stroke-width="2.4" />
<rect x="1989.0" y="1118.6" width="26.0" height="109.4" fill="#fff" stroke="#1e1e1e" stroke-width="2.6" />
<path d="M1993.0,1121.1L2011.0,1131.7 M1989.0,1134.2H2015.0 M1993.0,1136.7L2011.0,1147.3 M1989.0,1149.8H2015.0 M1993.0,1152.3L2011.0,1163.0 M1989.0,1165.5H2015.0 M1993.0,1168.0L2011.0,1178.6 M1989.0,1181.1H2015.0 M1993.0,1183.6L2011.0,1194.2 M1989.0,1196.7H2015.0 M1993.0,1199.2L2011.0,1209.8 M1989.0,1212.3H2015.0 M1993.0,1214.8L2011.0,1225.4" fill="none" stroke="#1e1e1e" stroke-width="2.0"/>
<rect x="2050.0" y="1118.6" width="27.0" height="109.4" fill="#fff" stroke="#1e1e1e" stroke-width="2.6" />
<path d="M2054.0,1121.1L2073.0,1131.7 M2050.0,1134.2H2077.0 M2054.0,1136.7L2073.0,1147.3 M2050.0,1149.8H2077.0 M2054.0,1152.3L2073.0,1163.0 M2050.0,1165.5H2077.0 M2054.0,1168.0L2073.0,1178.6 M2050.0,1181.1H2077.0 M2054.0,1183.6L2073.0,1194.2 M2050.0,1196.7H2077.0 M2054.0,1199.2L2073.0,1209.8 M2050.0,1212.3H2077.0 M2054.0,1214.8L2073.0,1225.4" fill="none" stroke="#1e1e1e" stroke-width="2.0"/>
<path d="M2022,1198 L2046,1198 M2034,1198 L2034,1226" fill="none" stroke="#222" stroke-width="3" />
<line x1="2087.0" y1="1228.0" x2="2618.0" y2="1228.0" stroke="#222" stroke-width="2.4" />
<line x1="1980.0" y1="1078.0" x2="2090.0" y2="1078.0" stroke="#222" stroke-width="1.6" />
<circle cx="1989.0" cy="1078.0" r="4" fill="#222"/>
<circle cx="2051.0" cy="1078.0" r="4" fill="#222"/>
<circle cx="2077.0" cy="1078.0" r="4" fill="#222"/>
<text x="2002.0" y="1071.0" font-size="15" text-anchor="start" fill="#222" textLength="26" lengthAdjust="spacingAndGlyphs" font-weight="normal" >250</text>
<text x="2056.0" y="1071.0" font-size="15" text-anchor="start" fill="#222" textLength="24" lengthAdjust="spacingAndGlyphs" font-weight="normal" >100</text>
<line x1="2612.0" y1="1079.0" x2="2700.0" y2="1079.0" stroke="#222" stroke-width="1.6" />
<line x1="2696.7" y1="1065.0" x2="2696.7" y2="1085.0" stroke="#222" stroke-width="1.4" />
<circle cx="2619.6" cy="1079.0" r="4" fill="#222"/>
<circle cx="2635.0" cy="1079.0" r="4" fill="#222"/>
<circle cx="2696.7" cy="1079.0" r="4" fill="#222"/>
<text x="2613.0" y="1071.0" font-size="15" text-anchor="end" fill="#222" textLength="17" lengthAdjust="spacingAndGlyphs" font-weight="normal" >65</text>
<text x="2651.0" y="1071.0" font-size="15" text-anchor="start" fill="#222" textLength="27" lengthAdjust="spacingAndGlyphs" font-weight="normal" >245</text>
<line x1="2696.7" y1="1079.0" x2="2696.7" y2="1227.0" stroke="#222" stroke-width="1.6" />
<line x1="2696.0" y1="1227.0" x2="2983.0" y2="1227.0" stroke="#222" stroke-width="1.8" />
<line x1="2700.0" y1="1289.0" x2="2760.0" y2="1289.0" stroke="#222" stroke-width="1.6" />
<rect x="2143.0" y="939.8" width="323.0" height="196.2" fill="none" stroke="#222" stroke-width="2.2" />
<rect x="2205.0" y="977.0" width="199.0" height="62.0" fill="none" stroke="#222" stroke-width="2.2" />
<line x1="2140.0" y1="934.7" x2="2470.0" y2="934.7" stroke="#666" stroke-width="1.5" stroke-dasharray="5 4"/>
<line x1="2086.0" y1="1136.0" x2="2618.0" y2="1136.0" stroke="#222" stroke-width="2.2" stroke-dasharray="14 3"/>
<line x1="2086.0" y1="1151.0" x2="2618.0" y2="1151.0" stroke="#666" stroke-width="1.4" stroke-dasharray="5 4"/>
<line x1="2051.0" y1="1313.6" x2="2619.0" y2="1313.6" stroke="#222" stroke-width="1.8" />
<circle cx="2051.0" cy="1313.6" r="4" fill="#222"/>
<circle cx="2619.0" cy="1313.6" r="4" fill="#222"/>
<text x="2335.0" y="1306.0" font-size="15" text-anchor="middle" fill="#222" textLength="36" lengthAdjust="spacingAndGlyphs" font-weight="normal" >2292</text>
<line x1="1989.0" y1="1359.0" x2="2619.0" y2="1359.0" stroke="#222" stroke-width="1.8" />
<circle cx="1989.0" cy="1359.0" r="4" fill="#222"/>
<circle cx="2088.0" cy="1359.0" r="4" fill="#222"/>
<circle cx="2520.0" cy="1359.0" r="4" fill="#222"/>
<circle cx="2619.0" cy="1359.0" r="4" fill="#222"/>
<text x="2034.0" y="1351.0" font-size="15" text-anchor="middle" fill="#222" textLength="26" lengthAdjust="spacingAndGlyphs" font-weight="normal" >400</text>
<text x="2304.0" y="1351.0" font-size="15" text-anchor="middle" fill="#222" textLength="34" lengthAdjust="spacingAndGlyphs" font-weight="normal" >1742</text>
<text x="2570.0" y="1351.0" font-size="15" text-anchor="middle" fill="#222" textLength="26" lengthAdjust="spacingAndGlyphs" font-weight="normal" >400</text>
<rect x="2088.0" y="1383.5" width="432.0" height="173.2" fill="#fff" stroke="#222" stroke-width="2.2" />
<circle cx="2111.2" cy="1468.3" r="21.0" fill="#fff" stroke="#222" stroke-width="1.6"/>
<circle cx="2157.1" cy="1468.3" r="17.0" fill="#fff" stroke="#222" stroke-width="1.6"/>
<circle cx="2196.0" cy="1462.5" r="21.0" fill="#fff" stroke="#222" stroke-width="1.6"/>
<circle cx="2231.7" cy="1469.6" r="13.4" fill="#fff" stroke="#222" stroke-width="1.6"/>
<circle cx="2267.4" cy="1462.5" r="21.0" fill="#fff" stroke="#222" stroke-width="1.6"/>
<circle cx="2306.2" cy="1468.3" r="17.0" fill="#fff" stroke="#222" stroke-width="1.6"/>
<circle cx="2344.6" cy="1462.5" r="21.0" fill="#fff" stroke="#222" stroke-width="1.6"/>
<circle cx="2380.4" cy="1468.3" r="13.4" fill="#fff" stroke="#222" stroke-width="1.6"/>
<circle cx="2415.6" cy="1462.5" r="21.0" fill="#fff" stroke="#222" stroke-width="1.6"/>
<circle cx="2455.8" cy="1467.0" r="17.0" fill="#fff" stroke="#222" stroke-width="1.6"/>
<circle cx="2139.3" cy="1501.8" r="21.0" fill="#fff" stroke="#222" stroke-width="1.6"/>
<circle cx="2178.1" cy="1498.2" r="17.0" fill="#fff" stroke="#222" stroke-width="1.6"/>
<circle cx="2217.4" cy="1502.7" r="21.0" fill="#fff" stroke="#222" stroke-width="1.6"/>
<circle cx="2252.7" cy="1501.8" r="13.4" fill="#fff" stroke="#222" stroke-width="1.6"/>
<circle cx="2288.4" cy="1502.7" r="21.0" fill="#fff" stroke="#222" stroke-width="1.6"/>
<circle cx="2326.8" cy="1498.2" r="17.0" fill="#fff" stroke="#222" stroke-width="1.6"/>
<circle cx="2365.6" cy="1502.7" r="21.0" fill="#fff" stroke="#222" stroke-width="1.6"/>
<circle cx="2401.3" cy="1501.8" r="13.4" fill="#fff" stroke="#222" stroke-width="1.6"/>
<circle cx="2437.5" cy="1502.7" r="21.0" fill="#fff" stroke="#222" stroke-width="1.6"/>
<circle cx="2477.2" cy="1498.2" r="17.0" fill="#fff" stroke="#222" stroke-width="1.6"/>
<circle cx="2112.5" cy="1536.6" r="21.0" fill="#fff" stroke="#222" stroke-width="1.6"/>
<circle cx="2150.4" cy="1539.7" r="17.0" fill="#fff" stroke="#222" stroke-width="1.6"/>
<circle cx="2190.2" cy="1535.3" r="21.0" fill="#fff" stroke="#222" stroke-width="1.6"/>
<circle cx="2225.0" cy="1542.9" r="13.4" fill="#fff" stroke="#222" stroke-width="1.6"/>
<circle cx="2260.7" cy="1536.6" r="21.0" fill="#fff" stroke="#222" stroke-width="1.6"/>
<circle cx="2300.0" cy="1539.7" r="17.0" fill="#fff" stroke="#222" stroke-width="1.6"/>
<circle cx="2339.7" cy="1535.3" r="21.0" fill="#fff" stroke="#222" stroke-width="1.6"/>
<circle cx="2376.8" cy="1542.9" r="13.4" fill="#fff" stroke="#222" stroke-width="1.6"/>
<circle cx="2412.5" cy="1536.6" r="21.0" fill="#fff" stroke="#222" stroke-width="1.6"/>
<circle cx="2450.4" cy="1539.7" r="17.0" fill="#fff" stroke="#222" stroke-width="1.6"/>
<circle cx="2492.0" cy="1535.3" r="21.0" fill="#fff" stroke="#222" stroke-width="1.6"/>
<rect x="2088.0" y="1618.0" width="432.0" height="173.0" fill="#fff" stroke="#222" stroke-width="2.2" />
<line x1="2088.0" y1="1777.7" x2="2520.0" y2="1777.7" stroke="#222" stroke-width="1.6" />
<line x1="2232.0" y1="1777.7" x2="2232.0" y2="1791.0" stroke="#222" stroke-width="1.6" />
<line x1="2376.0" y1="1777.7" x2="2376.0" y2="1791.0" stroke="#222" stroke-width="1.6" />
<line x1="2150.0" y1="1785.0" x2="2170.0" y2="1785.0" stroke="#555" stroke-width="2" />
<line x1="2294.0" y1="1785.0" x2="2314.0" y2="1785.0" stroke="#555" stroke-width="2" />
<line x1="2438.0" y1="1785.0" x2="2458.0" y2="1785.0" stroke="#555" stroke-width="2" />
<text x="2312.0" y="1727.0" font-size="22" text-anchor="middle" fill="#222" textLength="131" lengthAdjust="spacingAndGlyphs" font-weight="normal" >buitenhaard</text>
<text x="2281.0" y="1838.8" font-size="15" text-anchor="start" fill="#333" textLength="164" lengthAdjust="spacingAndGlyphs" font-weight="normal" >natuurstenen dorpel</text>
<text x="2281.0" y="1859.0" font-size="15" text-anchor="start" fill="#333" textLength="272" lengthAdjust="spacingAndGlyphs" font-weight="normal" >natuurstenen gevelsteen, gelijmd</text>
<text x="2281.0" y="1879.2" font-size="15" text-anchor="start" fill="#333" textLength="262" lengthAdjust="spacingAndGlyphs" font-weight="normal" >(hoogwaardige) isolatie (Rc=3,0)</text>
<line x1="2619.6" y1="672.0" x2="2619.6" y2="1890.0" stroke="#222" stroke-width="2.2" />
<line x1="2626.0" y1="672.0" x2="2626.0" y2="1890.0" stroke="#222" stroke-width="1.4" />
<line x1="2635.0" y1="672.0" x2="2635.0" y2="1890.0" stroke="#222" stroke-width="2.2" />
<rect x="2619.0" y="1225.0" width="77.0" height="50.0" fill="#abbdb9" stroke="#222" stroke-width="2.4" />
<rect x="2635.0" y="1236.0" width="35.0" height="26.0" fill="#fff" stroke="#222" stroke-width="2" />
<path d="M2675,1238 L2693,1260 M2693,1238 L2675,1260" fill="none" stroke="#222" stroke-width="1.5" />
<circle cx="2627.0" cy="1248.0" r="4.0" fill="none" stroke="#222" stroke-width="1.5"/>
<rect x="2619.0" y="1275.0" width="25.0" height="16.0" fill="#abbdb9" stroke="#222" stroke-width="1.6" />
<rect x="2646.0" y="1275.0" width="22.0" height="16.0" fill="#abbdb9" stroke="#222" stroke-width="1.6" />
<circle cx="2676.0" cy="1282.0" r="6.0" fill="none" stroke="#222" stroke-width="1.6"/>
<rect x="2687.0" y="1270.0" width="9.0" height="20.0" fill="#abbdb9" stroke="#222" stroke-width="1.6" />
<text x="2645.0" y="1197.0" font-size="15" text-anchor="start" fill="#333" textLength="156" lengthAdjust="spacingAndGlyphs" font-weight="normal" >stalen kokerprofiel</text>
<text x="2645.0" y="1216.0" font-size="15" text-anchor="start" fill="#333" textLength="78" lengthAdjust="spacingAndGlyphs" font-weight="normal" >150x100x8</text>
<rect x="2619.0" y="1212.0" width="16.0" height="13.0" fill="none" stroke="#222" stroke-width="1.5" />
<line x1="2646.0" y1="1290.0" x2="2646.0" y2="1890.0" stroke="#222" stroke-width="1.6" />
<line x1="2663.0" y1="1290.0" x2="2663.0" y2="1890.0" stroke="#222" stroke-width="1.6" />
<rect x="2644.0" y="1290.0" width="22.0" height="25.0" fill="none" stroke="#222" stroke-width="1.6" />
<rect x="2644.0" y="1861.4" width="19.0" height="23.6" fill="none" stroke="#222" stroke-width="2.6" />
<line x1="2644.0" y1="1870.0" x2="2663.0" y2="1870.0" stroke="#222" stroke-width="2" />
<line x1="2644.0" y1="1878.0" x2="2663.0" y2="1878.0" stroke="#222" stroke-width="2" />
<rect x="2621.0" y="1885.0" width="42.0" height="11.4" fill="none" stroke="#222" stroke-width="2.8" />
<line x1="2635.0" y1="1885.0" x2="2635.0" y2="1896.0" stroke="#222" stroke-width="2" />
<line x1="2650.0" y1="1885.0" x2="2650.0" y2="1896.0" stroke="#222" stroke-width="2" />
<polyline points="2813.5,911.8 2777.0,948.8 2813.5,985.8" fill="none" stroke="#444" stroke-width="2" stroke-linejoin="miter" />
<line x1="2813.5" y1="911.8" x2="2813.5" y2="929.8" stroke="#444" stroke-width="2" />
<line x1="2813.5" y1="967.8" x2="2813.5" y2="985.8" stroke="#444" stroke-width="2" />
<polyline points="2813.5,929.8 2852.0,929.8 2852.0,967.8 2813.5,967.8" fill="none" stroke="#444" stroke-width="2" stroke-linejoin="miter" />
<circle cx="2812.5" cy="948.8" r="18.0" fill="#fff" stroke="#444" stroke-width="2"/>
<text x="2812.5" y="953.8" font-size="13" text-anchor="middle" fill="#111" font-weight="bold" >G</text>
<polyline points="2813.5,1556.0 2777.0,1593.0 2813.5,1630.0" fill="none" stroke="#444" stroke-width="2" stroke-linejoin="miter" />
<line x1="2813.5" y1="1556.0" x2="2813.5" y2="1574.0" stroke="#444" stroke-width="2" />
<line x1="2813.5" y1="1612.0" x2="2813.5" y2="1630.0" stroke="#444" stroke-width="2" />
<polyline points="2813.5,1574.0 2852.0,1574.0 2852.0,1612.0 2813.5,1612.0" fill="none" stroke="#444" stroke-width="2" stroke-linejoin="miter" />
<circle cx="2812.5" cy="1593.0" r="18.0" fill="#fff" stroke="#444" stroke-width="2"/>
<text x="2812.5" y="1598.0" font-size="13" text-anchor="middle" fill="#111" font-weight="bold" >G</text>
<text x="2791.6" y="1424.0" font-size="32" text-anchor="start" fill="#222" textLength="109" lengthAdjust="spacingAndGlyphs" font-weight="normal" >keuken</text>
<line x1="2665.0" y1="1886.4" x2="2982.0" y2="1886.4" stroke="#222" stroke-width="1.8" />
<line x1="2665.0" y1="1893.8" x2="2982.0" y2="1893.8" stroke="#222" stroke-width="1.8" />
<polygon points="1612.0,1909.0 2574.0,1890.0 2574.0,1959.0 1612.0,1959.0" fill="#2e4d5a" stroke="#1f2f35" stroke-width="2" stroke-linejoin="miter" />
<rect x="2637.0" y="1910.0" width="345.0" height="50.0" fill="#abbdb9"  />
<line x1="2637.0" y1="1910.0" x2="2982.0" y2="1910.0" stroke="#222" stroke-width="3" />
<line x1="2637.0" y1="1960.0" x2="2982.0" y2="1960.0" stroke="#222" stroke-width="3" />
<polyline points="2637.0,1986.0 2652.7,1960.0 2668.4,1986.0 2684.0,1960.0 2699.7,1986.0 2715.4,1960.0 2731.1,1986.0 2746.8,1960.0 2762.5,1986.0 2778.1,1960.0 2793.8,1986.0 2809.5,1960.0 2825.2,1986.0 2840.9,1960.0 2856.5,1986.0 2872.2,1960.0 2887.9,1986.0 2903.6,1960.0 2919.3,1986.0 2935.0,1960.0 2950.6,1986.0 2966.3,1960.0 2982.0,1986.0" fill="none" stroke="#333" stroke-width="1.5" stroke-linejoin="miter" />
<line x1="2637.0" y1="1986.0" x2="2982.0" y2="1986.0" stroke="#666" stroke-width="1.4" />
<text x="2762.0" y="2008.0" font-size="15" text-anchor="start" fill="#222" textLength="167" lengthAdjust="spacingAndGlyphs" font-weight="normal" >systeemvloer Rc=3,0</text>
<rect x="2574.0" y="1914.8" width="24.6" height="194.2" fill="#fff" stroke="#1e1e1e" stroke-width="2.6" />
<path d="M2578.0,1927.9L2594.6,1917.3 M2574.0,1930.4H2598.6 M2578.0,1943.5L2594.6,1932.9 M2574.0,1946.0H2598.6 M2578.0,1959.2L2594.6,1948.5 M2574.0,1961.7H2598.6 M2578.0,1974.8L2594.6,1964.2 M2574.0,1977.3H2598.6 M2578.0,1990.4L2594.6,1979.8 M2574.0,1992.9H2598.6 M2578.0,2006.0L2594.6,1995.4 M2574.0,2008.5H2598.6 M2578.0,2021.6L2594.6,2011.0 M2574.0,2024.1H2598.6 M2578.0,2037.3L2594.6,2026.6 M2574.0,2039.8H2598.6 M2578.0,2052.9L2594.6,2042.3 M2574.0,2055.4H2598.6 M2578.0,2068.5L2594.6,2057.9 M2574.0,2071.0H2598.6 M2578.0,2084.1L2594.6,2073.5 M2574.0,2086.6H2598.6 M2578.0,2099.7L2594.6,2089.1 M2574.0,2102.2H2598.6" fill="none" stroke="#1e1e1e" stroke-width="2.0"/>
<path d="M2574,1914.8 L2574,1889.8 C2585,1887 2600,1885 2618.5,1885 L2621,1914.8 Z" fill="#fff" stroke="#222" stroke-width="2.6" />
<clipPath id="c711"><rect x="2574" y="1885" width="47" height="29.799999999999955"/></clipPath>
<path d="M2544.2,1885.0L2574.0,1914.8 M2557.2,1885.0L2587.0,1914.8 M2570.2,1885.0L2600.0,1914.8 M2583.2,1885.0L2613.0,1914.8 M2596.2,1885.0L2626.0,1914.8 M2609.2,1885.0L2639.0,1914.8 M2622.2,1885.0L2652.0,1914.8 M2635.2,1885.0L2665.0,1914.8 M2648.2,1885.0L2678.0,1914.8" stroke="#222" stroke-width="1.8" clip-path="url(#c711)"/>
<line x1="2620.3" y1="1885.0" x2="2620.3" y2="2109.0" stroke="#222" stroke-width="2.6" />
<line x1="2620.6" y1="1890.0" x2="2620.6" y2="2109.0" stroke="#222" stroke-width="2" />
<polyline points="2620.6,1905.0 2637.0,1922.0 2620.6,1939.0 2637.0,1956.0 2620.6,1973.0 2637.0,1990.0 2620.6,2007.0 2637.0,2024.0 2620.6,2041.0 2637.0,2058.0 2620.6,2075.0 2637.0,2092.0 2620.6,2109.0" fill="none" stroke="#333" stroke-width="1.5" stroke-linejoin="miter" />
<rect x="2637.0" y="1960.0" width="24.0" height="149.0" fill="#fff" stroke="#222" stroke-width="2.2" />
<clipPath id="c717"><rect x="2637" y="1960" width="24" height="149"/></clipPath>
<path d="M2488.0,2109.0L2637.0,1960.0 M2504.0,2109.0L2653.0,1960.0 M2520.0,2109.0L2669.0,1960.0 M2536.0,2109.0L2685.0,1960.0 M2552.0,2109.0L2701.0,1960.0 M2568.0,2109.0L2717.0,1960.0 M2584.0,2109.0L2733.0,1960.0 M2600.0,2109.0L2749.0,1960.0 M2616.0,2109.0L2765.0,1960.0 M2632.0,2109.0L2781.0,1960.0 M2648.0,2109.0L2797.0,1960.0 M2664.0,2109.0L2813.0,1960.0 M2680.0,2109.0L2829.0,1960.0 M2696.0,2109.0L2845.0,1960.0 M2712.0,2109.0L2861.0,1960.0 M2728.0,2109.0L2877.0,1960.0 M2744.0,2109.0L2893.0,1960.0 M2760.0,2109.0L2909.0,1960.0 M2776.0,2109.0L2925.0,1960.0 M2792.0,2109.0L2941.0,1960.0 M2808.0,2109.0L2957.0,1960.0" stroke="#222" stroke-width="1.8" clip-path="url(#c717)"/>
<line x1="2637.0" y1="1910.0" x2="2637.0" y2="2109.0" stroke="#222" stroke-width="2.2" />
<line x1="2661.0" y1="1960.0" x2="2661.0" y2="2109.0" stroke="#222" stroke-width="2.2" />
<rect x="2540.0" y="2109.0" width="158.0" height="153.5" fill="url(#xhatch)" stroke="#222" stroke-width="2.4" />
<rect x="2570.0" y="2109.0" width="98.0" height="123.0" fill="#abbdb9" stroke="#222" stroke-width="2.4" />
<path d="M2622,2112 L2634,2122 L2622,2132 L2634,2142 L2622,2152 L2634,2160" fill="none" stroke="#3d5552" stroke-width="2" />
<line x1="2568.7" y1="2262.0" x2="2568.7" y2="2440.0" stroke="#222" stroke-width="1.8" />
<line x1="2669.0" y1="2262.0" x2="2669.0" y2="2440.0" stroke="#222" stroke-width="1.8" />
<path d="M2574.6,2262 L2574.6,2330 C2574.6,2345 2582,2350 2594,2347 C2612,2340 2630,2322 2645,2318 C2656,2316 2660.4,2324 2660.4,2333 L2660.4,2262" fill="none" stroke="#222" stroke-width="1.8" />
<path d="M2620,2336 C2627,2346 2636,2349 2646,2347 C2656,2345 2660.4,2340 2660.4,2333" fill="none" stroke="#222" stroke-width="1.8" />
<line x1="2560.0" y1="2383.0" x2="2682.0" y2="2383.0" stroke="#222" stroke-width="1.6" />
<circle cx="2568.7" cy="2383.0" r="3.5" fill="#222"/>
<circle cx="2669.0" cy="2383.0" r="3.5" fill="#222"/>
<line x1="2636.0" y1="2370.0" x2="2636.0" y2="2396.0" stroke="#222" stroke-width="1.6" />
<circle cx="2636.0" cy="2383.0" r="3" fill="#222"/>
<text x="2602.0" y="2376.0" font-size="15" text-anchor="middle" fill="#222" textLength="28" lengthAdjust="spacingAndGlyphs" font-weight="normal" >270</text>
<text x="2653.0" y="2376.0" font-size="14" text-anchor="middle" fill="#222" textLength="24" lengthAdjust="spacingAndGlyphs" font-weight="normal" >130</text>
<line x1="2560.0" y1="2424.0" x2="2682.0" y2="2424.0" stroke="#222" stroke-width="1.6" />
<circle cx="2568.7" cy="2424.0" r="3.5" fill="#222"/>
<circle cx="2669.0" cy="2424.0" r="3.5" fill="#222"/>
<text x="2619.0" y="2417.0" font-size="15" text-anchor="middle" fill="#222" textLength="28" lengthAdjust="spacingAndGlyphs" font-weight="normal" >400</text>
<text x="2283.0" y="1988.0" font-size="15" text-anchor="start" fill="#222" textLength="275" lengthAdjust="spacingAndGlyphs" font-weight="normal" >natuurstenen gevelsteen, gelijmd</text>
<text x="2283.0" y="2008.6" font-size="15" text-anchor="start" fill="#222" textLength="276" lengthAdjust="spacingAndGlyphs" font-weight="normal" >(hoogwaardige) isolatie (Rc=3,0)</text>
<text x="2283.0" y="2029.2" font-size="15" text-anchor="start" fill="#222" textLength="165" lengthAdjust="spacingAndGlyphs" font-weight="normal" >met gesloten cellen</text>
<text x="2542.0" y="2024.0" font-size="14" text-anchor="start" fill="#222" textLength="24" lengthAdjust="spacingAndGlyphs" font-weight="normal" >100</text>
<text x="2603.0" y="2024.0" font-size="14" text-anchor="start" fill="#222" textLength="24" lengthAdjust="spacingAndGlyphs" font-weight="normal" >150</text>
<text x="2665.0" y="2024.0" font-size="14" text-anchor="start" fill="#222" textLength="24" lengthAdjust="spacingAndGlyphs" font-weight="normal" >100</text>
<line x1="2560.0" y1="2030.0" x2="2680.0" y2="2030.0" stroke="#222" stroke-width="1.4" />
<circle cx="2573.0" cy="2030.0" r="3.5" fill="#222"/>
<circle cx="2600.0" cy="2030.0" r="3.5" fill="#222"/>
<circle cx="2637.0" cy="2030.0" r="3.5" fill="#222"/>
<circle cx="2661.0" cy="2030.0" r="3.5" fill="#222"/>
<line x1="1989.0" y1="1959.0" x2="1989.0" y2="2073.0" stroke="#222" stroke-width="2" />
<line x1="1989.0" y1="2060.0" x2="2661.0" y2="2060.0" stroke="#222" stroke-width="1.8" />
<circle cx="1989.0" cy="2060.0" r="4" fill="#222"/>
<circle cx="2051.0" cy="2060.0" r="4" fill="#222"/>
<circle cx="2661.0" cy="2060.0" r="4" fill="#222"/>
<text x="2020.0" y="2052.0" font-size="15" text-anchor="middle" fill="#222" textLength="26" lengthAdjust="spacingAndGlyphs" font-weight="normal" >250</text>
<text x="2355.0" y="2052.0" font-size="15" text-anchor="middle" fill="#222" textLength="36" lengthAdjust="spacingAndGlyphs" font-weight="normal" >2462</text>
<line x1="2661.0" y1="2090.0" x2="3040.0" y2="2090.0" stroke="#222" stroke-width="0" />
<line x1="2700.0" y1="2109.0" x2="3040.0" y2="2109.0" stroke="#222" stroke-width="1.8" />
<line x1="2700.0" y1="2233.0" x2="3040.0" y2="2233.0" stroke="#222" stroke-width="1.8" />
<rect x="321.0" y="528.0" width="26.0" height="1631.0" fill="none" stroke="#222" stroke-width="2.2" />
<line x1="321.0" y1="544.2" x2="347.0" y2="544.2" stroke="#222" stroke-width="2.4" />
<line x1="321.0" y1="560.0" x2="347.0" y2="560.0" stroke="#222" stroke-width="2.4" />
<line x1="321.0" y1="575.7" x2="347.0" y2="575.7" stroke="#222" stroke-width="2.4" />
<line x1="321.0" y1="591.5" x2="347.0" y2="591.5" stroke="#222" stroke-width="2.4" />
<line x1="321.0" y1="607.3" x2="347.0" y2="607.3" stroke="#222" stroke-width="2.4" />
<line x1="321.0" y1="623.1" x2="347.0" y2="623.1" stroke="#222" stroke-width="2.4" />
<line x1="321.0" y1="638.9" x2="347.0" y2="638.9" stroke="#222" stroke-width="2.4" />
<line x1="321.0" y1="654.6" x2="347.0" y2="654.6" stroke="#222" stroke-width="2.4" />
<line x1="321.0" y1="670.4" x2="347.0" y2="670.4" stroke="#222" stroke-width="2.4" />
<line x1="321.0" y1="686.2" x2="347.0" y2="686.2" stroke="#222" stroke-width="2.4" />
<line x1="321.0" y1="702.0" x2="347.0" y2="702.0" stroke="#222" stroke-width="2.4" />
<line x1="321.0" y1="717.8" x2="347.0" y2="717.8" stroke="#222" stroke-width="2.4" />
<line x1="321.0" y1="733.5" x2="347.0" y2="733.5" stroke="#222" stroke-width="2.4" />
<line x1="321.0" y1="749.3" x2="347.0" y2="749.3" stroke="#222" stroke-width="2.4" />
<line x1="321.0" y1="765.1" x2="347.0" y2="765.1" stroke="#222" stroke-width="2.4" />
<line x1="321.0" y1="780.9" x2="347.0" y2="780.9" stroke="#222" stroke-width="2.4" />
<line x1="321.0" y1="796.7" x2="347.0" y2="796.7" stroke="#222" stroke-width="2.4" />
<line x1="321.0" y1="812.4" x2="347.0" y2="812.4" stroke="#222" stroke-width="2.4" />
<line x1="321.0" y1="828.2" x2="347.0" y2="828.2" stroke="#222" stroke-width="2.4" />
<line x1="321.0" y1="844.0" x2="347.0" y2="844.0" stroke="#222" stroke-width="2.4" />
<line x1="321.0" y1="859.8" x2="347.0" y2="859.8" stroke="#222" stroke-width="2.4" />
<line x1="321.0" y1="875.6" x2="347.0" y2="875.6" stroke="#222" stroke-width="2.4" />
<line x1="321.0" y1="891.3" x2="347.0" y2="891.3" stroke="#222" stroke-width="2.4" />
<line x1="321.0" y1="907.1" x2="347.0" y2="907.1" stroke="#222" stroke-width="2.4" />
<line x1="321.0" y1="922.9" x2="347.0" y2="922.9" stroke="#222" stroke-width="2.4" />
<line x1="321.0" y1="938.7" x2="347.0" y2="938.7" stroke="#222" stroke-width="2.4" />
<line x1="321.0" y1="954.5" x2="347.0" y2="954.5" stroke="#222" stroke-width="2.4" />
<line x1="321.0" y1="970.2" x2="347.0" y2="970.2" stroke="#222" stroke-width="2.4" />
<line x1="321.0" y1="986.0" x2="347.0" y2="986.0" stroke="#222" stroke-width="2.4" />
<line x1="321.0" y1="1001.8" x2="347.0" y2="1001.8" stroke="#222" stroke-width="2.4" />
<line x1="321.0" y1="1017.6" x2="347.0" y2="1017.6" stroke="#222" stroke-width="2.4" />
<line x1="321.0" y1="1033.4" x2="347.0" y2="1033.4" stroke="#222" stroke-width="2.4" />
<line x1="321.0" y1="1049.1" x2="347.0" y2="1049.1" stroke="#222" stroke-width="2.4" />
<line x1="321.0" y1="1064.9" x2="347.0" y2="1064.9" stroke="#222" stroke-width="2.4" />
<line x1="321.0" y1="1080.7" x2="347.0" y2="1080.7" stroke="#222" stroke-width="2.4" />
<line x1="321.0" y1="1096.5" x2="347.0" y2="1096.5" stroke="#222" stroke-width="2.4" />
<line x1="321.0" y1="1112.3" x2="347.0" y2="1112.3" stroke="#222" stroke-width="2.4" />
<line x1="321.0" y1="1128.0" x2="347.0" y2="1128.0" stroke="#222" stroke-width="2.4" />
<line x1="321.0" y1="1143.8" x2="347.0" y2="1143.8" stroke="#222" stroke-width="2.4" />
<line x1="321.0" y1="1159.6" x2="347.0" y2="1159.6" stroke="#222" stroke-width="2.4" />
<line x1="321.0" y1="1175.4" x2="347.0" y2="1175.4" stroke="#222" stroke-width="2.4" />
<line x1="321.0" y1="1191.2" x2="347.0" y2="1191.2" stroke="#222" stroke-width="2.4" />
<line x1="321.0" y1="1206.9" x2="347.0" y2="1206.9" stroke="#222" stroke-width="2.4" />
<line x1="321.0" y1="1222.7" x2="347.0" y2="1222.7" stroke="#222" stroke-width="2.4" />
<line x1="321.0" y1="1238.5" x2="347.0" y2="1238.5" stroke="#222" stroke-width="2.4" />
<line x1="321.0" y1="1254.3" x2="347.0" y2="1254.3" stroke="#222" stroke-width="2.4" />
<line x1="321.0" y1="1270.1" x2="347.0" y2="1270.1" stroke="#222" stroke-width="2.4" />
<line x1="321.0" y1="1285.8" x2="347.0" y2="1285.8" stroke="#222" stroke-width="2.4" />
<line x1="321.0" y1="1301.6" x2="347.0" y2="1301.6" stroke="#222" stroke-width="2.4" />
<line x1="321.0" y1="1317.4" x2="347.0" y2="1317.4" stroke="#222" stroke-width="2.4" />
<line x1="321.0" y1="1333.2" x2="347.0" y2="1333.2" stroke="#222" stroke-width="2.4" />
<line x1="321.0" y1="1349.0" x2="347.0" y2="1349.0" stroke="#222" stroke-width="2.4" />
<line x1="321.0" y1="1364.7" x2="347.0" y2="1364.7" stroke="#222" stroke-width="2.4" />
<line x1="321.0" y1="1380.5" x2="347.0" y2="1380.5" stroke="#222" stroke-width="2.4" />
<line x1="321.0" y1="1396.3" x2="347.0" y2="1396.3" stroke="#222" stroke-width="2.4" />
<line x1="321.0" y1="1412.1" x2="347.0" y2="1412.1" stroke="#222" stroke-width="2.4" />
<line x1="321.0" y1="1427.9" x2="347.0" y2="1427.9" stroke="#222" stroke-width="2.4" />
<line x1="321.0" y1="1443.6" x2="347.0" y2="1443.6" stroke="#222" stroke-width="2.4" />
<line x1="321.0" y1="1459.4" x2="347.0" y2="1459.4" stroke="#222" stroke-width="2.4" />
<line x1="321.0" y1="1475.2" x2="347.0" y2="1475.2" stroke="#222" stroke-width="2.4" />
<line x1="321.0" y1="1491.0" x2="347.0" y2="1491.0" stroke="#222" stroke-width="2.4" />
<line x1="321.0" y1="1506.8" x2="347.0" y2="1506.8" stroke="#222" stroke-width="2.4" />
<line x1="321.0" y1="1522.5" x2="347.0" y2="1522.5" stroke="#222" stroke-width="2.4" />
<line x1="321.0" y1="1538.3" x2="347.0" y2="1538.3" stroke="#222" stroke-width="2.4" />
<line x1="321.0" y1="1554.1" x2="347.0" y2="1554.1" stroke="#222" stroke-width="2.4" />
<line x1="321.0" y1="1569.9" x2="347.0" y2="1569.9" stroke="#222" stroke-width="2.4" />
<line x1="321.0" y1="1585.7" x2="347.0" y2="1585.7" stroke="#222" stroke-width="2.4" />
<line x1="321.0" y1="1601.4" x2="347.0" y2="1601.4" stroke="#222" stroke-width="2.4" />
<line x1="321.0" y1="1617.2" x2="347.0" y2="1617.2" stroke="#222" stroke-width="2.4" />
<line x1="321.0" y1="1633.0" x2="347.0" y2="1633.0" stroke="#222" stroke-width="2.4" />
<line x1="321.0" y1="1648.8" x2="347.0" y2="1648.8" stroke="#222" stroke-width="2.4" />
<line x1="321.0" y1="1664.6" x2="347.0" y2="1664.6" stroke="#222" stroke-width="2.4" />
<line x1="321.0" y1="1680.3" x2="347.0" y2="1680.3" stroke="#222" stroke-width="2.4" />
<line x1="321.0" y1="1696.1" x2="347.0" y2="1696.1" stroke="#222" stroke-width="2.4" />
<line x1="321.0" y1="1711.9" x2="347.0" y2="1711.9" stroke="#222" stroke-width="2.4" />
<line x1="321.0" y1="1727.7" x2="347.0" y2="1727.7" stroke="#222" stroke-width="2.4" />
<line x1="321.0" y1="1743.5" x2="347.0" y2="1743.5" stroke="#222" stroke-width="2.4" />
<line x1="321.0" y1="1759.2" x2="347.0" y2="1759.2" stroke="#222" stroke-width="2.4" />
<line x1="321.0" y1="1775.0" x2="347.0" y2="1775.0" stroke="#222" stroke-width="2.4" />
<line x1="321.0" y1="1790.8" x2="347.0" y2="1790.8" stroke="#222" stroke-width="2.4" />
<line x1="321.0" y1="1806.6" x2="347.0" y2="1806.6" stroke="#222" stroke-width="2.4" />
<line x1="321.0" y1="1822.4" x2="347.0" y2="1822.4" stroke="#222" stroke-width="2.4" />
<line x1="321.0" y1="1838.1" x2="347.0" y2="1838.1" stroke="#222" stroke-width="2.4" />
<line x1="321.0" y1="1853.9" x2="347.0" y2="1853.9" stroke="#222" stroke-width="2.4" />
<line x1="321.0" y1="1869.7" x2="347.0" y2="1869.7" stroke="#222" stroke-width="2.4" />
<line x1="321.0" y1="1885.5" x2="347.0" y2="1885.5" stroke="#222" stroke-width="2.4" />
<line x1="321.0" y1="1901.3" x2="347.0" y2="1901.3" stroke="#222" stroke-width="2.4" />
<line x1="321.0" y1="1917.0" x2="347.0" y2="1917.0" stroke="#222" stroke-width="2.4" />
<line x1="321.0" y1="1932.8" x2="347.0" y2="1932.8" stroke="#222" stroke-width="2.4" />
<line x1="321.0" y1="1948.6" x2="347.0" y2="1948.6" stroke="#222" stroke-width="2.4" />
<line x1="321.0" y1="1964.4" x2="347.0" y2="1964.4" stroke="#222" stroke-width="2.4" />
<line x1="321.0" y1="1980.2" x2="347.0" y2="1980.2" stroke="#222" stroke-width="2.4" />
<line x1="321.0" y1="1995.9" x2="347.0" y2="1995.9" stroke="#222" stroke-width="2.4" />
<line x1="321.0" y1="2011.7" x2="347.0" y2="2011.7" stroke="#222" stroke-width="2.4" />
<line x1="321.0" y1="2027.5" x2="347.0" y2="2027.5" stroke="#222" stroke-width="2.4" />
<line x1="321.0" y1="2043.3" x2="347.0" y2="2043.3" stroke="#222" stroke-width="2.4" />
<line x1="321.0" y1="2059.1" x2="347.0" y2="2059.1" stroke="#222" stroke-width="2.4" />
<line x1="321.0" y1="2074.8" x2="347.0" y2="2074.8" stroke="#222" stroke-width="2.4" />
<line x1="321.0" y1="2090.6" x2="347.0" y2="2090.6" stroke="#222" stroke-width="2.4" />
<rect x="321.0" y="2102.0" width="26.0" height="57.0" fill="url(#xhatch2)" stroke="#222" stroke-width="2" />
<line x1="274.0" y1="1894.5" x2="416.0" y2="1894.5" stroke="#555" stroke-width="2" />
<text x="383.0" y="1889.0" font-size="9" text-anchor="start" fill="#666" textLength="34" lengthAdjust="spacingAndGlyphs" font-weight="normal" >Peil-0</text>
<text x="275.0" y="2251.7" font-size="15" text-anchor="start" fill="#222" textLength="88" lengthAdjust="spacingAndGlyphs" font-weight="normal" >lagenmaat:</text>
<line x1="275.0" y1="2254.5" x2="363.0" y2="2254.5" stroke="#222" stroke-width="1.3" />
<text x="275.0" y="2272.7" font-size="15" text-anchor="start" fill="#222" textLength="177" lengthAdjust="spacingAndGlyphs" font-weight="normal" >-start op 848mm-Peil</text>
<text x="275.0" y="2293.4" font-size="15" text-anchor="start" fill="#222" textLength="147" lengthAdjust="spacingAndGlyphs" font-weight="normal" >-lagenmaat 63mm</text>
<text x="275.0" y="2314.0" font-size="15" text-anchor="start" fill="#222" textLength="248" lengthAdjust="spacingAndGlyphs" font-weight="normal" >-steen=58mm + 5mm lijmvoeg</text>
<text x="315.5" y="2750.5" font-size="26" text-anchor="start" fill="#111" textLength="555" lengthAdjust="spacingAndGlyphs" font-weight="normal" >Wall and fireplace elevation and section details</text>
<text x="1640.0" y="3322.0" font-size="26" text-anchor="start" fill="#111" textLength="25" lengthAdjust="spacingAndGlyphs" font-weight="normal" >17</text>
<circle cx="2450.0" cy="3302.0" r="2.2" fill="#333" /></svg>
</body></html>
